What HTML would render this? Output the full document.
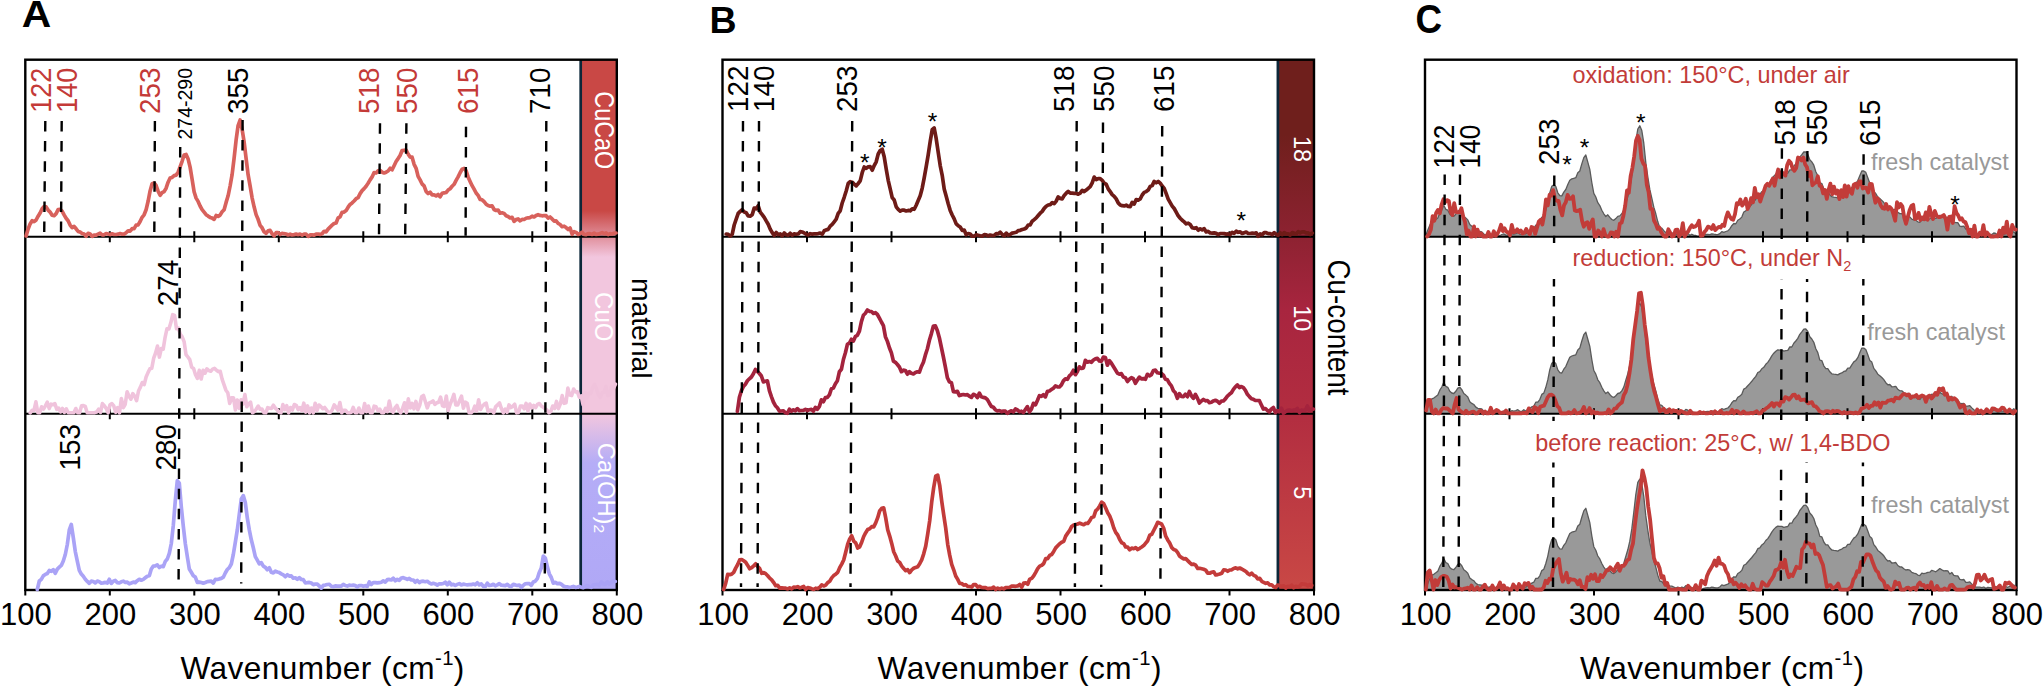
<!DOCTYPE html>
<html lang="en"><head><meta charset="utf-8"><title>Raman spectra</title>
<style>html,body{margin:0;padding:0;background:#fff}body{width:2044px;height:686px;overflow:hidden}svg{display:block}</style>
</head><body>
<svg width="2044" height="686" viewBox="0 0 2044 686" font-family="'Liberation Sans', Arial, Helvetica, sans-serif">
<defs>
<linearGradient id="gA" x1="0" y1="0" x2="0" y2="1">
<stop offset="0" stop-color="#c94845"/>
<stop offset="0.285" stop-color="#c94845"/>
<stop offset="0.372" stop-color="#f2c6de"/>
<stop offset="0.668" stop-color="#f2c6de"/>
<stop offset="0.760" stop-color="#b5adf7"/>
<stop offset="1" stop-color="#b0a8f6"/>
</linearGradient>
<linearGradient id="gB" x1="0" y1="0" x2="0" y2="1">
<stop offset="0" stop-color="#6f1f1c"/>
<stop offset="0.142" stop-color="#6f1f1c"/>
<stop offset="0.332" stop-color="#8d2231"/>
<stop offset="0.472" stop-color="#a8253f"/>
<stop offset="0.666" stop-color="#b22d40"/>
<stop offset="1" stop-color="#c94845"/>
</linearGradient>
</defs>
<rect width="2044" height="686" fill="#fff"/>
<!-- Panel A -->
<rect x="580.7" y="59.7" width="36.1" height="530.3" fill="url(#gA)"/>
<line x1="580.7" y1="59.7" x2="580.7" y2="590.0" stroke="#0c2739" stroke-width="2.7"/>
<g stroke="#000" stroke-width="2.4" fill="none" stroke-linecap="butt">
<rect x="25.3" y="59.7" width="591.5" height="530.3"/>
<path d="M25.3 236.7H616.8M25.3 413.8H616.8" stroke-width="2"/>
<path d="M25.3 590.0V595.5M109.8 590.0V595.5M109.8 231.2V242.2M109.8 408.3V419.3M194.3 590.0V595.5M194.3 231.2V242.2M194.3 408.3V419.3M278.8 590.0V595.5M278.8 231.2V242.2M278.8 408.3V419.3M363.3 590.0V595.5M363.3 231.2V242.2M363.3 408.3V419.3M447.8 590.0V595.5M447.8 231.2V242.2M447.8 408.3V419.3M532.3 590.0V595.5M532.3 231.2V242.2M532.3 408.3V419.3M616.8 590.0V595.5" stroke-width="2"/>
</g>
<polyline points="26.1,236.0 28.1,229.1 30.1,223.9 32.1,220.7 34.1,221.7 36.1,220.0 38.1,216.2 40.1,213.0 42.1,208.7 44.1,206.5 46.1,206.9 48.1,210.1 50.1,212.1 52.1,215.3 54.1,215.7 56.1,213.6 58.1,209.6 60.1,209.4 62.1,211.2 64.1,214.9 66.1,218.3 68.1,220.7 70.1,225.1 72.1,227.6 74.1,226.4 76.1,228.8 78.1,231.4 80.1,232.1 82.1,233.5 84.1,234.1 86.1,236.2 88.1,233.3 90.1,234.0 92.1,236.4 94.1,235.1 96.1,235.2 98.1,234.1 100.1,233.1 102.1,234.8 104.1,234.8 106.1,233.5 108.1,234.0 110.1,234.6 112.1,233.8 114.1,234.5 116.1,234.5 118.1,234.2 120.1,233.5 122.1,234.2 124.1,234.1 126.1,232.8 128.1,230.8 130.1,231.1 132.1,228.7 134.1,228.6 136.1,225.1 138.1,224.9 140.1,221.5 142.1,217.3 144.1,214.8 146.1,209.7 148.1,201.3 150.1,190.9 152.1,183.7 154.1,183.0 156.1,185.5 158.1,191.2 160.1,195.3 162.1,192.7 164.1,191.6 166.1,188.2 168.1,182.2 170.1,178.0 172.1,177.4 174.1,175.6 176.1,175.1 178.1,172.2 180.1,166.8 182.1,161.3 184.1,155.0 186.1,154.4 188.1,158.9 190.1,167.1 192.1,179.3 194.1,191.7 196.1,198.1 198.1,201.4 200.1,206.0 202.1,209.6 204.1,212.1 206.1,214.7 208.1,216.1 210.1,217.4 212.1,218.1 214.1,219.3 216.1,215.5 218.1,216.4 220.1,215.1 222.1,211.8 224.1,209.7 226.1,202.4 228.1,195.8 230.1,186.0 232.1,174.6 234.1,158.2 236.1,140.1 238.1,125.6 240.1,120.0 242.1,129.3 244.1,141.8 246.1,158.5 248.1,174.7 250.1,185.8 252.1,197.8 254.1,206.8 256.1,214.6 258.1,219.3 260.1,225.4 262.1,227.8 264.1,231.8 266.1,233.4 268.1,230.9 270.1,230.4 272.1,233.7 274.1,235.8 276.1,232.7 278.1,232.6 280.1,234.5 282.1,233.3 284.1,233.7 286.1,234.0 288.1,235.0 290.1,234.2 292.1,235.0 294.1,234.6 296.1,234.1 298.1,234.7 300.1,234.1 302.1,235.1 304.1,234.0 306.1,234.1 308.1,236.4 310.1,234.9 312.1,234.8 314.1,235.2 316.1,234.1 318.1,234.0 320.1,234.4 322.1,233.7 324.1,231.3 326.1,231.9 328.1,229.1 330.1,227.1 332.1,225.2 334.1,223.5 336.1,223.0 338.1,217.9 340.1,216.8 342.1,212.3 344.1,212.1 346.1,210.6 348.1,207.2 350.1,204.4 352.1,202.9 354.1,201.0 356.1,198.7 358.1,197.6 360.1,193.6 362.1,190.6 364.1,188.6 366.1,186.2 368.1,183.3 370.1,179.9 372.1,176.9 374.1,172.5 376.1,173.0 378.1,170.9 380.1,170.4 382.1,172.2 384.1,173.0 386.1,172.2 388.1,171.0 390.1,168.3 392.1,169.8 394.1,165.7 396.1,161.5 398.1,158.6 400.1,155.5 402.1,150.5 404.1,150.3 406.1,150.1 408.1,154.0 410.1,157.1 412.1,157.2 414.1,164.3 416.1,168.3 418.1,176.4 420.1,179.9 422.1,184.0 424.1,185.8 426.1,191.4 428.1,193.6 430.1,192.2 432.1,194.9 434.1,194.8 436.1,195.9 438.1,194.5 440.1,196.9 442.1,193.3 444.1,192.9 446.1,192.5 448.1,190.1 450.1,188.7 452.1,186.3 454.1,184.3 456.1,180.4 458.1,176.9 460.1,172.7 462.1,169.3 464.1,168.5 466.1,170.7 468.1,176.9 470.1,181.4 472.1,185.7 474.1,189.2 476.1,193.0 478.1,195.4 480.1,199.4 482.1,199.8 484.1,201.7 486.1,204.2 488.1,205.6 490.1,206.2 492.1,205.9 494.1,209.5 496.1,210.5 498.1,210.1 500.1,213.2 502.1,212.8 504.1,213.4 506.1,215.7 508.1,216.5 510.1,218.0 512.1,217.3 514.1,221.4 516.1,219.6 518.1,218.9 520.1,220.8 522.1,219.4 524.1,219.5 526.1,218.2 528.1,217.8 530.1,217.6 532.1,216.2 534.1,217.0 536.1,215.5 538.1,214.7 540.1,215.4 542.1,215.8 544.1,215.5 546.1,215.7 548.1,218.1 550.1,217.0 552.1,218.9 554.1,221.1 556.1,220.9 558.1,223.4 560.1,224.5 562.1,226.7 564.1,226.2 566.1,227.6 568.1,229.5 570.1,228.0 572.1,234.3 574.1,231.7 576.1,232.4 578.1,234.4 580.1,233.7 582.1,232.1 584.1,234.4 586.1,234.7 588.1,233.5 590.1,233.7 592.1,234.4 594.1,233.1 596.1,234.4 598.1,234.2 600.1,233.4 602.1,232.6 604.1,233.7 606.1,232.9 608.1,234.6 610.1,233.6 612.1,234.0 614.1,233.1 616.1,233.0" fill="none" stroke="#d8615c" stroke-width="3.7" stroke-linejoin="round" stroke-linecap="round"/>
<polyline points="30.2,412.8 32.1,410.3 34.0,410.4 35.9,401.8 37.8,412.8 39.7,412.8 41.6,406.8 43.5,409.2 45.4,405.8 47.3,402.2 49.2,408.6 51.1,404.1 53.0,404.7 54.9,403.6 56.8,409.4 58.7,408.1 60.6,411.9 62.5,408.5 64.4,412.4 66.3,408.9 68.2,412.8 70.1,412.8 72.0,412.8 73.9,412.8 75.8,408.5 77.7,412.8 79.6,412.8 81.5,405.9 83.4,405.6 85.3,406.5 87.2,412.8 89.1,412.8 91.0,412.8 92.9,412.8 94.8,412.6 96.7,412.1 98.6,409.2 100.5,412.4 102.4,403.6 104.3,405.8 106.2,408.4 108.1,412.8 110.0,404.7 111.9,403.6 113.8,405.9 115.7,412.3 117.6,407.6 119.5,412.8 121.4,398.5 123.3,407.7 125.2,404.3 127.1,391.8 129.0,396.3 130.9,399.2 132.8,393.6 134.7,396.3 136.6,400.7 138.5,391.0 140.4,387.1 142.3,382.5 144.2,384.6 146.1,377.0 148.0,372.6 149.9,368.8 151.8,368.2 153.7,358.1 155.6,353.0 157.5,346.1 159.4,357.1 161.3,348.5 163.2,349.1 165.1,337.3 167.0,328.7 168.9,329.0 170.8,322.8 172.7,314.7 174.6,315.4 176.5,328.8 178.4,328.2 180.3,334.2 182.2,336.9 184.1,341.6 186.0,354.6 187.9,357.0 189.8,359.6 191.7,367.2 193.6,368.4 195.5,374.7 197.4,378.3 199.3,370.3 201.2,379.0 203.1,370.3 205.0,373.2 206.9,368.8 208.8,370.6 210.7,371.2 212.6,369.1 214.5,368.4 216.4,370.1 218.3,371.7 220.2,371.3 222.1,379.1 224.0,384.7 225.9,390.2 227.8,392.8 229.7,403.4 231.6,397.8 233.5,397.8 235.4,409.9 237.3,400.0 239.2,408.3 241.1,399.8 243.0,404.1 244.9,394.6 246.8,406.7 248.7,403.8 250.6,402.2 252.5,412.8 254.4,411.5 256.3,409.0 258.2,406.1 260.1,409.2 262.0,409.0 263.9,412.8 265.8,412.8 267.7,407.6 269.6,408.2 271.5,408.4 273.4,405.2 275.3,408.2 277.2,409.9 279.1,412.3 281.0,412.8 282.9,404.6 284.8,409.6 286.7,405.7 288.6,412.8 290.5,407.5 292.4,410.0 294.3,404.5 296.2,405.3 298.1,409.6 300.0,407.6 301.9,410.7 303.8,403.2 305.7,412.1 307.6,405.9 309.5,412.8 311.4,408.0 313.3,412.8 315.2,403.2 317.1,410.3 319.0,405.0 320.9,406.6 322.8,408.7 324.7,407.5 326.6,410.1 328.5,412.4 330.4,412.3 332.3,409.7 334.2,404.9 336.1,407.4 338.0,410.1 339.9,402.5 341.8,412.8 343.7,410.2 345.6,410.2 347.5,412.8 349.4,412.8 351.3,412.3 353.2,407.4 355.1,412.7 357.0,412.8 358.9,408.0 360.8,412.8 362.7,412.8 364.6,403.5 366.5,411.7 368.4,406.0 370.3,412.8 372.2,412.8 374.1,406.2 376.0,406.8 377.9,410.6 379.8,409.1 381.7,412.8 383.6,412.7 385.5,408.4 387.4,411.7 389.3,401.1 391.2,410.2 393.1,412.3 395.0,407.9 396.9,405.5 398.8,410.4 400.7,412.8 402.6,408.4 404.5,402.8 406.4,412.6 408.3,398.9 410.2,408.0 412.1,403.3 414.0,408.9 415.9,401.4 417.8,409.7 419.7,405.3 421.6,396.8 423.5,395.5 425.4,401.8 427.3,407.9 429.2,402.9 431.1,402.3 433.0,400.8 434.9,404.4 436.8,402.8 438.7,402.2 440.6,397.1 442.5,405.8 444.4,406.5 446.3,396.0 448.2,410.5 450.1,404.4 452.0,399.8 453.9,394.4 455.8,405.0 457.7,404.9 459.6,400.6 461.5,396.1 463.4,408.3 465.3,402.1 467.2,403.2 469.1,412.8 471.0,412.8 472.9,411.1 474.8,406.1 476.7,411.0 478.6,399.7 480.5,409.5 482.4,406.2 484.3,404.2 486.2,403.2 488.1,411.7 490.0,410.1 491.9,410.4 493.8,412.8 495.7,406.6 497.6,405.0 499.5,402.9 501.4,408.6 503.3,412.8 505.2,409.2 507.1,412.3 509.0,404.9 510.9,407.6 512.8,406.2 514.7,404.2 516.6,412.8 518.5,412.4 520.4,406.0 522.3,406.0 524.2,408.8 526.1,403.4 528.0,411.0 529.9,404.1 531.8,407.9 533.7,405.4 535.6,407.7 537.5,404.4 539.4,403.5 541.3,406.0 543.2,407.2 545.1,408.8 547.0,410.2 548.9,412.8 550.8,411.5 552.7,406.0 554.6,408.5 556.5,401.4 558.4,408.6 560.3,404.1 562.2,395.6 564.1,403.3 566.0,402.8 567.9,388.1 569.8,395.1 571.7,395.6 573.6,389.1 575.5,392.0 577.4,391.9 579.3,397.2 581.2,395.9 583.1,404.8 585.0,392.3 586.9,398.1 588.8,393.4 590.7,393.8 592.6,387.7 594.5,384.4 596.4,388.6 598.3,394.4 600.2,397.3 602.1,393.0 604.0,392.2 605.9,386.5 607.8,395.7 609.7,394.6 611.6,386.7 613.5,388.3 615.4,384.2" fill="none" stroke="#f0c3dc" stroke-width="3.6" stroke-linejoin="round" stroke-linecap="round"/>
<polyline points="37.3,589.5 39.3,581.0 41.3,579.3 43.3,575.8 45.3,574.4 47.3,573.5 49.3,570.5 51.3,571.3 53.3,569.7 55.3,573.3 57.3,569.1 59.3,567.2 61.3,565.4 63.3,561.0 65.3,554.5 67.3,544.5 69.3,529.9 71.3,524.5 73.3,537.6 75.3,551.6 77.3,561.2 79.3,570.4 81.3,574.1 83.3,576.3 85.3,579.2 87.3,581.4 89.3,583.3 91.3,581.2 93.3,581.5 95.3,582.9 97.3,581.1 99.3,581.8 101.3,583.1 103.3,582.9 105.3,582.4 107.3,583.0 109.3,579.3 111.3,583.4 113.3,581.3 115.3,580.5 117.3,582.6 119.3,583.0 121.3,581.8 123.3,581.2 125.3,582.3 127.3,582.2 129.3,583.8 131.3,583.0 133.3,582.1 135.3,582.6 137.3,580.7 139.3,579.3 141.3,580.2 143.3,579.4 145.3,577.8 147.3,576.2 149.3,575.8 151.3,569.0 153.3,566.1 155.3,565.9 157.3,564.8 159.3,567.5 161.3,566.2 163.3,566.6 165.3,561.4 167.3,559.0 169.3,553.4 171.3,543.5 173.3,525.4 175.3,500.6 177.3,480.6 179.3,483.1 181.3,506.9 183.3,526.2 185.3,543.5 187.3,556.5 189.3,569.0 191.3,572.3 193.3,575.7 195.3,577.1 197.3,582.4 199.3,582.1 201.3,582.5 203.3,583.2 205.3,582.5 207.3,581.6 209.3,581.4 211.3,581.2 213.3,583.0 215.3,579.4 217.3,579.5 219.3,578.9 221.3,578.4 223.3,577.2 225.3,573.0 227.3,569.5 229.3,567.6 231.3,564.0 233.3,554.5 235.3,542.4 237.3,529.9 239.3,514.3 241.3,499.0 243.3,495.6 245.3,502.5 247.3,517.9 249.3,529.9 251.3,539.8 253.3,547.8 255.3,556.6 257.3,560.1 259.3,563.8 261.3,562.7 263.3,566.1 265.3,567.3 267.3,569.7 269.3,567.8 271.3,572.3 273.3,572.9 275.3,571.1 277.3,572.0 279.3,572.6 281.3,573.9 283.3,574.9 285.3,576.7 287.3,574.7 289.3,576.1 291.3,575.9 293.3,578.2 295.3,577.8 297.3,579.3 299.3,577.7 301.3,579.5 303.3,579.7 305.3,582.8 307.3,582.7 309.3,582.4 311.3,583.0 313.3,584.7 315.3,584.0 317.3,584.2 319.3,586.0 321.3,588.1 323.3,585.3 325.3,585.1 327.3,584.5 329.3,584.3 331.3,586.3 333.3,586.7 335.3,585.9 337.3,586.2 339.3,586.0 341.3,586.1 343.3,584.3 345.3,585.5 347.3,586.1 349.3,585.2 351.3,585.5 353.3,585.1 355.3,585.6 357.3,586.9 359.3,585.5 361.3,585.6 363.3,586.3 365.3,585.7 367.3,586.4 369.3,581.9 371.3,584.5 373.3,582.5 375.3,582.6 377.3,582.9 379.3,582.7 381.3,582.2 383.3,580.9 385.3,582.1 387.3,579.7 389.3,579.4 391.3,580.0 393.3,578.2 395.3,580.8 397.3,579.3 399.3,580.4 401.3,578.0 403.3,577.7 405.3,578.4 407.3,579.4 409.3,578.4 411.3,579.9 413.3,580.0 415.3,582.2 417.3,580.4 419.3,582.6 421.3,581.3 423.3,581.2 425.3,581.7 427.3,581.3 429.3,582.9 431.3,584.0 433.3,583.3 435.3,583.9 437.3,585.1 439.3,583.8 441.3,583.8 443.3,583.5 445.3,582.2 447.3,584.8 449.3,582.2 451.3,584.9 453.3,584.3 455.3,585.5 457.3,584.4 459.3,583.6 461.3,585.0 463.3,584.1 465.3,584.5 467.3,584.8 469.3,584.7 471.3,584.7 473.3,584.0 475.3,584.8 477.3,582.8 479.3,584.9 481.3,583.9 483.3,586.3 485.3,586.5 487.3,583.2 489.3,585.4 491.3,585.2 493.3,584.3 495.3,585.9 497.3,584.9 499.3,583.6 501.3,585.2 503.3,585.4 505.3,585.6 507.3,584.3 509.3,586.2 511.3,586.4 513.3,584.4 515.3,584.9 517.3,585.5 519.3,585.0 521.3,587.3 523.3,585.4 525.3,583.8 527.3,583.5 529.3,583.7 531.3,585.4 533.3,582.0 535.3,581.2 537.3,578.7 539.3,572.4 541.3,568.0 543.3,556.0 545.3,558.0 547.3,566.6 549.3,573.8 551.3,577.5 553.3,583.2 555.3,582.4 557.3,583.6 559.3,583.3 561.3,584.2 563.3,586.0 565.3,586.8 567.3,586.8 569.3,587.4 571.3,587.0 573.3,586.4 575.3,587.3 577.3,587.1 579.3,586.4 581.3,587.2 583.3,587.7 585.3,586.5 587.3,585.6 589.3,586.5 591.3,587.4 593.3,584.9 595.3,584.7 597.3,584.3 599.3,585.4 601.3,581.9 603.3,583.9 605.3,584.4 607.3,581.9 609.3,584.0 611.3,582.6 613.3,581.1 615.3,581.5" fill="none" stroke="#aaa3f6" stroke-width="3.7" stroke-linejoin="round" stroke-linecap="round"/>
<g stroke="#000" stroke-width="2.4" stroke-dasharray="10.5 9.6" fill="none">
<line x1="45.3" y1="121.0" x2="44.2" y2="235.7"/>
<line x1="61.7" y1="121.0" x2="61.0" y2="235.7"/>
<line x1="154.9" y1="121.0" x2="154.3" y2="235.7"/>
<line x1="180.2" y1="147.0" x2="178.6" y2="580.0"/>
<line x1="242.6" y1="120.0" x2="241.2" y2="583.5"/>
<line x1="380.0" y1="123.2" x2="379.0" y2="235.7"/>
<line x1="406.4" y1="123.2" x2="405.2" y2="235.7"/>
<line x1="466.0" y1="126.8" x2="465.6" y2="235.7"/>
<line x1="546.3" y1="120.9" x2="544.8" y2="587.0"/>
</g>
<text id="a122" transform="translate(51.00 112.80) rotate(-90) scale(1 1.100)" font-size="27.00" fill="#c43a38">122</text>
<text id="a140" transform="translate(77.00 112.80) rotate(-90) scale(1 1.100)" font-size="27.00" fill="#c43a38">140</text>
<text id="a253" transform="translate(159.90 114.00) rotate(-90) scale(1 1.050)" font-size="27.80" fill="#c43a38">253</text>
<text id="a274290" transform="translate(191.50 139.50) rotate(-90) scale(1 1.050)" font-size="19.50" fill="#000">274-290</text>
<text id="a355" transform="translate(248.10 114.00) rotate(-90) scale(1 1.050)" font-size="27.80" fill="#000">355</text>
<text id="a518" transform="translate(378.50 114.00) rotate(-90) scale(1 1.050)" font-size="27.80" fill="#c43a38">518</text>
<text id="a550" transform="translate(417.40 114.00) rotate(-90) scale(1 1.050)" font-size="27.80" fill="#c43a38">550</text>
<text id="a615" transform="translate(477.50 114.00) rotate(-90) scale(1 1.050)" font-size="27.80" fill="#c43a38">615</text>
<text id="a710" transform="translate(549.50 114.00) rotate(-90) scale(1 1.050)" font-size="27.80" fill="#000">710</text>
<text id="a274" transform="translate(177.70 306.20) rotate(-90) scale(1 1.050)" font-size="27.80" fill="#000">274</text>
<text id="a153" transform="translate(80.10 470.50) rotate(-90) scale(1 1.050)" font-size="27.80" fill="#000">153</text>
<text id="a280" transform="translate(176.30 470.50) rotate(-90) scale(1 1.050)" font-size="27.80" fill="#000">280</text>
<text id="aCuCaO" transform="translate(595.20 91.30) rotate(90) scale(1 1.160)" font-size="23.40" fill="#fff">CuCaO</text>
<text id="aCuO" transform="translate(595.20 292.10) rotate(90) scale(1 1.110)" font-size="24.00" fill="#fff">CuO</text>
<text id="aCaOH" transform="translate(598.00 442.80) rotate(90) scale(1 1.000)" font-size="23.70" fill="#fff">Ca(OH)<tspan font-size="15.5" dy="4">2</tspan></text>
<text id="amat" transform="translate(631.80 277.90) rotate(90) scale(1 1.000)" font-size="28.30" fill="#000">material</text>
<text id="aA" transform="translate(21.80 26.90) scale(1.080 1)" font-size="37.80" fill="#000" text-anchor="start" font-weight="bold">A</text>
<g font-size="31" text-anchor="middle" fill="#000">
<text x="25.9" y="625.3">100</text>
<text x="110.4" y="625.3">200</text>
<text x="194.9" y="625.3">300</text>
<text x="279.4" y="625.3">400</text>
<text x="363.9" y="625.3">500</text>
<text x="448.4" y="625.3">600</text>
<text x="532.9" y="625.3">700</text>
<text x="617.4" y="625.3">800</text>
</g>
<text x="180.4" y="678.7" font-size="31.6" textLength="284" lengthAdjust="spacing" fill="#000">Wavenumber (cm<tspan font-size="20.3" dy="-14">-1</tspan><tspan dy="14">)</tspan></text>
<!-- Panel B -->
<rect x="1277.9" y="59.7" width="36.1" height="530.3" fill="url(#gB)"/>
<line x1="1277.9" y1="59.7" x2="1277.9" y2="590.0" stroke="#0c2739" stroke-width="2.7"/>
<g stroke="#000" stroke-width="2.4" fill="none" stroke-linecap="butt">
<rect x="722.5" y="59.7" width="591.5" height="530.3"/>
<path d="M722.5 236.7H1314.0M722.5 413.8H1314.0" stroke-width="2"/>
<path d="M722.5 590.0V595.5M807.0 590.0V595.5M807.0 231.2V242.2M807.0 408.3V419.3M891.5 590.0V595.5M891.5 231.2V242.2M891.5 408.3V419.3M976.0 590.0V595.5M976.0 231.2V242.2M976.0 408.3V419.3M1060.5 590.0V595.5M1060.5 231.2V242.2M1060.5 408.3V419.3M1145.0 590.0V595.5M1145.0 231.2V242.2M1145.0 408.3V419.3M1229.5 590.0V595.5M1229.5 231.2V242.2M1229.5 408.3V419.3M1314.0 590.0V595.5" stroke-width="2"/>
</g>
<polyline points="726.2,234.0 728.2,234.4 730.2,236.0 732.2,234.4 734.2,225.0 736.2,219.2 738.2,213.4 740.2,211.4 742.2,209.7 744.2,212.0 746.2,212.7 748.2,215.9 750.2,216.1 752.2,214.8 754.2,208.1 756.2,208.8 758.2,205.8 760.2,212.1 762.2,214.6 764.2,217.3 766.2,220.9 768.2,224.3 770.2,229.1 772.2,232.7 774.2,235.4 776.2,232.5 778.2,234.6 780.2,233.9 782.2,235.8 784.2,233.0 786.2,234.8 788.2,235.2 790.2,233.2 792.2,235.2 794.2,233.9 796.2,234.3 798.2,233.9 800.2,231.7 802.2,232.0 804.2,232.9 806.2,234.3 808.2,234.9 810.2,233.7 812.2,234.1 814.2,233.9 816.2,233.8 818.2,233.6 820.2,233.0 822.2,234.3 824.2,230.8 826.2,229.9 828.2,229.4 830.2,226.1 832.2,224.3 834.2,221.8 836.2,219.2 838.2,213.4 840.2,210.8 842.2,203.0 844.2,197.3 846.2,191.0 848.2,183.5 850.2,181.7 852.2,182.2 854.2,184.1 856.2,185.9 858.2,183.5 860.2,180.9 862.2,172.7 864.2,167.0 866.2,168.4 868.2,166.8 870.2,166.7 872.2,170.2 874.2,165.6 876.2,161.8 878.2,154.0 880.2,150.5 882.2,149.3 884.2,156.7 886.2,169.0 888.2,180.3 890.2,188.8 892.2,197.6 894.2,200.0 896.2,206.8 898.2,209.3 900.2,211.1 902.2,210.1 904.2,210.2 906.2,211.0 908.2,210.4 910.2,210.8 912.2,208.9 914.2,209.3 916.2,205.2 918.2,200.6 920.2,195.8 922.2,188.2 924.2,177.8 926.2,166.6 928.2,154.9 930.2,141.5 932.2,129.7 934.2,128.0 936.2,138.7 938.2,152.2 940.2,165.6 942.2,175.3 944.2,188.9 946.2,196.3 948.2,203.7 950.2,210.4 952.2,215.0 954.2,218.9 956.2,223.9 958.2,225.7 960.2,227.0 962.2,230.4 964.2,230.0 966.2,234.7 968.2,233.5 970.2,234.0 972.2,236.2 974.2,236.2 976.2,234.7 978.2,235.3 980.2,235.8 982.2,236.2 984.2,234.6 986.2,234.8 988.2,235.9 990.2,235.0 992.2,235.5 994.2,235.3 996.2,233.6 998.2,233.8 1000.2,232.1 1002.2,234.4 1004.2,235.8 1006.2,233.1 1008.2,235.1 1010.2,234.5 1012.2,233.1 1014.2,232.7 1016.2,232.3 1018.2,230.6 1020.2,230.3 1022.2,229.5 1024.2,229.0 1026.2,228.0 1028.2,225.0 1030.2,224.8 1032.2,221.2 1034.2,219.6 1036.2,217.9 1038.2,215.5 1040.2,213.2 1042.2,211.4 1044.2,208.4 1046.2,206.3 1048.2,205.0 1050.2,204.7 1052.2,202.6 1054.2,203.6 1056.2,201.1 1058.2,196.9 1060.2,198.4 1062.2,198.9 1064.2,195.4 1066.2,193.2 1068.2,191.4 1070.2,193.1 1072.2,193.1 1074.2,193.3 1076.2,193.3 1078.2,194.2 1080.2,193.1 1082.2,190.4 1084.2,191.6 1086.2,190.1 1088.2,188.3 1090.2,186.6 1092.2,182.8 1094.2,177.1 1096.2,179.7 1098.2,178.7 1100.2,178.6 1102.2,180.3 1104.2,183.3 1106.2,184.2 1108.2,188.9 1110.2,191.7 1112.2,194.6 1114.2,196.3 1116.2,198.9 1118.2,202.9 1120.2,205.0 1122.2,205.7 1124.2,205.9 1126.2,205.2 1128.2,206.4 1130.2,206.6 1132.2,202.4 1134.2,204.1 1136.2,199.6 1138.2,200.1 1140.2,199.0 1142.2,195.0 1144.2,192.4 1146.2,191.6 1148.2,190.1 1150.2,186.4 1152.2,185.6 1154.2,181.4 1156.2,182.8 1158.2,181.5 1160.2,183.2 1162.2,186.0 1164.2,188.4 1166.2,193.7 1168.2,199.1 1170.2,202.6 1172.2,206.1 1174.2,208.5 1176.2,212.2 1178.2,215.8 1180.2,218.2 1182.2,220.3 1184.2,221.9 1186.2,223.8 1188.2,223.2 1190.2,224.6 1192.2,227.7 1194.2,228.3 1196.2,227.7 1198.2,230.2 1200.2,228.8 1202.2,229.8 1204.2,228.7 1206.2,231.9 1208.2,231.4 1210.2,233.0 1212.2,233.1 1214.2,232.9 1216.2,233.4 1218.2,234.7 1220.2,233.5 1222.2,233.5 1224.2,233.6 1226.2,234.1 1228.2,233.9 1230.2,234.6 1232.2,232.3 1234.2,233.3 1236.2,231.2 1238.2,232.3 1240.2,231.8 1242.2,233.5 1244.2,232.7 1246.2,232.0 1248.2,233.4 1250.2,233.5 1252.2,233.2 1254.2,233.4 1256.2,232.8 1258.2,236.2 1260.2,233.9 1262.2,234.7 1264.2,232.6 1266.2,232.7 1268.2,233.6 1270.2,233.6 1272.2,234.6 1274.2,232.7 1276.2,234.3 1278.2,235.3 1280.2,232.8 1282.2,234.6 1284.2,232.7 1286.2,233.9 1288.2,233.8 1290.2,235.1 1292.2,232.6 1294.2,233.3 1296.2,234.1 1298.2,231.7 1300.2,232.8 1302.2,231.8 1304.2,231.8 1306.2,233.0 1308.2,232.8 1310.2,234.5 1312.2,233.1" fill="none" stroke="#6e1b17" stroke-width="3.7" stroke-linejoin="round" stroke-linecap="round"/>
<polyline points="737.4,411.3 739.4,397.2 741.4,390.8 743.4,386.4 745.4,384.2 747.4,380.8 749.4,378.8 751.4,377.0 753.4,373.7 755.4,369.5 757.4,371.4 759.4,373.5 761.4,376.0 763.4,381.9 765.4,381.3 767.4,380.9 769.4,390.7 771.4,396.6 773.4,402.0 775.4,405.7 777.4,407.7 779.4,411.1 781.4,411.0 783.4,410.8 785.4,412.8 787.4,413.3 789.4,409.2 791.4,411.3 793.4,409.8 795.4,410.8 797.4,408.6 799.4,410.7 801.4,410.5 803.4,410.3 805.4,409.3 807.4,410.7 809.4,409.7 811.4,409.3 813.4,411.2 815.4,407.4 817.4,409.3 819.4,406.4 821.4,399.8 823.4,401.8 825.4,397.6 827.4,397.3 829.4,394.9 831.4,388.7 833.4,388.1 835.4,383.7 837.4,380.7 839.4,371.7 841.4,369.3 843.4,359.5 845.4,352.8 847.4,344.4 849.4,343.1 851.4,339.3 853.4,341.0 855.4,336.6 857.4,335.2 859.4,331.2 861.4,321.6 863.4,315.2 865.4,313.2 867.4,310.0 869.4,311.3 871.4,311.5 873.4,313.4 875.4,312.7 877.4,314.5 879.4,318.1 881.4,322.0 883.4,325.6 885.4,336.7 887.4,341.4 889.4,347.8 891.4,352.9 893.4,361.1 895.4,362.3 897.4,364.5 899.4,367.0 901.4,371.7 903.4,370.2 905.4,370.5 907.4,374.2 909.4,371.6 911.4,373.3 913.4,373.9 915.4,372.5 917.4,371.8 919.4,372.2 921.4,366.5 923.4,362.2 925.4,354.9 927.4,348.7 929.4,340.3 931.4,333.6 933.4,326.1 935.4,325.9 937.4,330.7 939.4,338.0 941.4,347.5 943.4,357.0 945.4,367.2 947.4,377.8 949.4,381.9 951.4,382.7 953.4,391.6 955.4,391.9 957.4,391.4 959.4,395.6 961.4,394.9 963.4,394.5 965.4,395.0 967.4,394.6 969.4,396.2 971.4,397.4 973.4,394.3 975.4,395.1 977.4,397.6 979.4,393.1 981.4,396.8 983.4,397.4 985.4,397.9 987.4,399.7 989.4,403.2 991.4,406.5 993.4,407.3 995.4,409.7 997.4,411.0 999.4,410.5 1001.4,411.6 1003.4,411.1 1005.4,411.2 1007.4,413.3 1009.4,411.6 1011.4,410.8 1013.4,411.8 1015.4,409.0 1017.4,410.0 1019.4,411.7 1021.4,411.2 1023.4,412.5 1025.4,409.5 1027.4,406.6 1029.4,411.9 1031.4,409.1 1033.4,403.3 1035.4,404.9 1037.4,400.5 1039.4,395.6 1041.4,396.4 1043.4,394.8 1045.4,396.9 1047.4,391.4 1049.4,391.0 1051.4,389.6 1053.4,388.2 1055.4,386.0 1057.4,386.8 1059.4,387.0 1061.4,384.9 1063.4,380.9 1065.4,378.9 1067.4,379.3 1069.4,375.9 1071.4,374.0 1073.4,370.3 1075.4,374.7 1077.4,371.5 1079.4,366.8 1081.4,368.5 1083.4,367.9 1085.4,360.3 1087.4,362.2 1089.4,361.5 1091.4,362.3 1093.4,360.0 1095.4,358.9 1097.4,358.4 1099.4,361.0 1101.4,361.3 1103.4,357.0 1105.4,357.5 1107.4,365.2 1109.4,360.7 1111.4,363.2 1113.4,366.4 1115.4,369.7 1117.4,373.1 1119.4,374.2 1121.4,373.6 1123.4,377.1 1125.4,377.7 1127.4,381.5 1129.4,379.2 1131.4,377.7 1133.4,378.7 1135.4,383.3 1137.4,380.1 1139.4,377.1 1141.4,378.8 1143.4,378.6 1145.4,379.3 1147.4,374.3 1149.4,375.9 1151.4,374.6 1153.4,370.5 1155.4,370.2 1157.4,372.8 1159.4,373.2 1161.4,373.5 1163.4,375.1 1165.4,379.2 1167.4,379.8 1169.4,383.4 1171.4,385.9 1173.4,390.8 1175.4,392.8 1177.4,398.3 1179.4,393.6 1181.4,396.3 1183.4,396.6 1185.4,394.2 1187.4,396.7 1189.4,391.4 1191.4,395.8 1193.4,398.3 1195.4,394.4 1197.4,398.1 1199.4,403.0 1201.4,401.0 1203.4,399.5 1205.4,400.8 1207.4,400.5 1209.4,402.6 1211.4,402.2 1213.4,400.9 1215.4,400.3 1217.4,401.2 1219.4,403.2 1221.4,401.1 1223.4,401.0 1225.4,398.9 1227.4,396.1 1229.4,394.3 1231.4,392.8 1233.4,389.4 1235.4,386.8 1237.4,385.0 1239.4,387.5 1241.4,386.5 1243.4,387.6 1245.4,390.3 1247.4,394.3 1249.4,396.6 1251.4,398.7 1253.4,399.3 1255.4,400.5 1257.4,400.5 1259.4,400.7 1261.4,405.0 1263.4,409.1 1265.4,408.5 1267.4,410.5 1269.4,411.9 1271.4,408.9 1273.4,407.5 1275.4,412.6 1277.4,410.6 1279.4,411.8 1281.4,408.3 1283.4,413.3 1285.4,411.8 1287.4,410.4 1289.4,410.0 1291.4,410.7 1293.4,410.2 1295.4,410.0 1297.4,408.5 1299.4,412.5 1301.4,410.2 1303.4,410.3 1305.4,410.3 1307.4,406.0 1309.4,410.8 1311.4,409.2 1313.4,409.1" fill="none" stroke="#a4233d" stroke-width="3.7" stroke-linejoin="round" stroke-linecap="round"/>
<polyline points="723.7,589.5 725.7,583.2 727.7,574.4 729.7,574.6 731.7,574.1 733.7,572.4 735.7,568.1 737.7,564.5 739.7,559.9 741.7,559.5 743.7,560.8 745.7,562.3 747.7,565.4 749.7,568.7 751.7,567.6 753.7,565.8 755.7,563.8 757.7,566.6 759.7,568.6 761.7,573.4 763.7,572.6 765.7,573.7 767.7,575.7 769.7,578.1 771.7,579.8 773.7,582.6 775.7,585.7 777.7,585.3 779.7,588.1 781.7,587.8 783.7,588.1 785.7,588.2 787.7,588.9 789.7,587.8 791.7,588.9 793.7,587.2 795.7,587.3 797.7,586.7 799.7,587.9 801.7,587.3 803.7,586.5 805.7,589.5 807.7,587.5 809.7,588.0 811.7,588.8 813.7,589.5 815.7,588.2 817.7,588.6 819.7,587.3 821.7,584.8 823.7,586.0 825.7,585.1 827.7,582.6 829.7,581.3 831.7,577.9 833.7,575.6 835.7,574.2 837.7,572.4 839.7,567.6 841.7,564.1 843.7,560.0 845.7,552.3 847.7,544.2 849.7,538.9 851.7,535.8 853.7,541.2 855.7,542.9 857.7,548.0 859.7,546.8 861.7,542.2 863.7,536.5 865.7,532.7 867.7,529.5 869.7,528.7 871.7,526.7 873.7,526.9 875.7,522.9 877.7,517.7 879.7,510.8 881.7,508.3 883.7,507.9 885.7,517.9 887.7,529.8 889.7,536.1 891.7,543.4 893.7,551.8 895.7,556.0 897.7,561.1 899.7,562.5 901.7,566.1 903.7,568.5 905.7,570.6 907.7,569.7 909.7,572.6 911.7,569.9 913.7,568.3 915.7,567.4 917.7,566.7 919.7,563.7 921.7,559.9 923.7,553.8 925.7,546.3 927.7,534.1 929.7,520.8 931.7,502.1 933.7,487.5 935.7,476.2 937.7,475.2 939.7,485.3 941.7,501.0 943.7,514.8 945.7,528.0 947.7,544.3 949.7,555.2 951.7,564.4 953.7,569.8 955.7,576.0 957.7,579.4 959.7,583.5 961.7,583.5 963.7,585.1 965.7,584.7 967.7,586.4 969.7,586.5 971.7,587.1 973.7,584.5 975.7,584.6 977.7,587.1 979.7,586.3 981.7,587.5 983.7,587.6 985.7,587.7 987.7,588.6 989.7,588.4 991.7,588.4 993.7,587.1 995.7,589.5 997.7,588.1 999.7,589.0 1001.7,588.1 1003.7,588.9 1005.7,587.7 1007.7,587.5 1009.7,587.3 1011.7,586.2 1013.7,586.1 1015.7,586.3 1017.7,585.9 1019.7,584.5 1021.7,587.2 1023.7,583.1 1025.7,582.9 1027.7,584.2 1029.7,579.2 1031.7,578.4 1033.7,575.8 1035.7,572.3 1037.7,568.6 1039.7,566.1 1041.7,565.3 1043.7,563.5 1045.7,558.6 1047.7,558.6 1049.7,555.4 1051.7,554.5 1053.7,551.4 1055.7,547.9 1057.7,545.8 1059.7,543.7 1061.7,542.3 1063.7,541.4 1065.7,536.1 1067.7,533.1 1069.7,530.3 1071.7,526.4 1073.7,525.0 1075.7,524.5 1077.7,524.0 1079.7,523.1 1081.7,524.0 1083.7,524.7 1085.7,523.4 1087.7,523.5 1089.7,520.9 1091.7,517.4 1093.7,516.8 1095.7,510.9 1097.7,509.0 1099.7,505.9 1101.7,502.1 1103.7,503.7 1105.7,508.0 1107.7,512.8 1109.7,516.0 1111.7,521.1 1113.7,527.7 1115.7,532.4 1117.7,535.0 1119.7,539.6 1121.7,542.8 1123.7,543.6 1125.7,547.0 1127.7,547.2 1129.7,549.8 1131.7,548.1 1133.7,548.7 1135.7,547.7 1137.7,549.5 1139.7,548.3 1141.7,547.0 1143.7,545.6 1145.7,543.1 1147.7,540.7 1149.7,535.3 1151.7,534.4 1153.7,530.5 1155.7,526.7 1157.7,522.3 1159.7,523.1 1161.7,524.2 1163.7,528.3 1165.7,536.2 1167.7,539.9 1169.7,543.0 1171.7,547.4 1173.7,549.6 1175.7,550.2 1177.7,552.7 1179.7,556.3 1181.7,557.6 1183.7,558.8 1185.7,558.7 1187.7,560.6 1189.7,562.6 1191.7,564.5 1193.7,564.2 1195.7,565.2 1197.7,568.4 1199.7,568.3 1201.7,568.7 1203.7,569.2 1205.7,570.1 1207.7,573.1 1209.7,573.2 1211.7,572.3 1213.7,571.8 1215.7,574.9 1217.7,574.6 1219.7,574.0 1221.7,573.2 1223.7,569.9 1225.7,570.0 1227.7,571.3 1229.7,570.0 1231.7,569.8 1233.7,568.4 1235.7,567.8 1237.7,568.8 1239.7,568.0 1241.7,569.0 1243.7,570.2 1245.7,571.3 1247.7,573.4 1249.7,574.8 1251.7,573.1 1253.7,575.4 1255.7,576.2 1257.7,578.9 1259.7,578.4 1261.7,581.3 1263.7,582.3 1265.7,583.3 1267.7,582.9 1269.7,584.8 1271.7,584.8 1273.7,586.8 1275.7,587.5 1277.7,585.0 1279.7,585.7 1281.7,586.3 1283.7,585.9 1285.7,588.0 1287.7,586.3 1289.7,586.7 1291.7,585.2 1293.7,587.8 1295.7,586.4 1297.7,586.9 1299.7,586.1 1301.7,583.8 1303.7,584.2 1305.7,584.3 1307.7,585.9 1309.7,584.7 1311.7,585.5" fill="none" stroke="#c33b3a" stroke-width="3.7" stroke-linejoin="round" stroke-linecap="round"/>
<g stroke="#000" stroke-width="2.4" stroke-dasharray="10.5 9.6" fill="none">
<line x1="743.0" y1="121.0" x2="741.0" y2="587.0"/>
<line x1="759.0" y1="121.0" x2="757.6" y2="587.0"/>
<line x1="852.2" y1="121.0" x2="850.5" y2="587.0"/>
<line x1="1076.7" y1="121.0" x2="1074.9" y2="587.0"/>
<line x1="1103.0" y1="122.4" x2="1101.2" y2="587.0"/>
<line x1="1162.2" y1="126.0" x2="1160.4" y2="587.0"/>
</g>
<text id="b122" transform="translate(748.30 112.00) rotate(-90) scale(1 1.050)" font-size="27.80" fill="#000">122</text>
<text id="b140" transform="translate(774.00 112.00) rotate(-90) scale(1 1.050)" font-size="27.80" fill="#000">140</text>
<text id="b253" transform="translate(856.90 112.00) rotate(-90) scale(1 1.050)" font-size="27.80" fill="#000">253</text>
<text id="b518" transform="translate(1074.40 112.00) rotate(-90) scale(1 1.050)" font-size="27.80" fill="#000">518</text>
<text id="b550" transform="translate(1114.10 112.00) rotate(-90) scale(1 1.050)" font-size="27.80" fill="#000">550</text>
<text id="b615" transform="translate(1173.80 112.00) rotate(-90) scale(1 1.050)" font-size="27.80" fill="#000">615</text>
<text id="b18" transform="translate(1293.50 136.00) rotate(90) scale(1 1.040)" font-size="23.50" fill="#fff">18</text>
<text id="b10" transform="translate(1293.50 305.30) rotate(90) scale(1 1.040)" font-size="23.50" fill="#fff">10</text>
<text id="b5" transform="translate(1293.50 486.20) rotate(90) scale(1 1.040)" font-size="23.50" fill="#fff">5</text>
<text id="bcu" transform="translate(1328.00 259.50) rotate(90) scale(1 1.100)" font-size="27.80" fill="#000">Cu-content</text>
<text id="bB" transform="translate(709.50 32.90) scale(1.000 1)" font-size="37.50" fill="#000" text-anchor="start" font-weight="bold">B</text>
<text id="ast0" transform="translate(864.80 171.20) scale(1.000 1)" font-size="24.50" fill="#000" text-anchor="middle">*</text>
<text id="ast1" transform="translate(882.00 155.50) scale(1.000 1)" font-size="24.50" fill="#000" text-anchor="middle">*</text>
<text id="ast2" transform="translate(932.60 129.90) scale(1.000 1)" font-size="24.50" fill="#000" text-anchor="middle">*</text>
<text id="ast3" transform="translate(1241.30 229.30) scale(1.000 1)" font-size="24.50" fill="#000" text-anchor="middle">*</text>
<g font-size="31" text-anchor="middle" fill="#000">
<text x="723.1" y="625.3">100</text>
<text x="807.6" y="625.3">200</text>
<text x="892.1" y="625.3">300</text>
<text x="976.6" y="625.3">400</text>
<text x="1061.1" y="625.3">500</text>
<text x="1145.6" y="625.3">600</text>
<text x="1230.1" y="625.3">700</text>
<text x="1314.6" y="625.3">800</text>
</g>
<text x="877.6" y="678.7" font-size="31.6" textLength="284" lengthAdjust="spacing" fill="#000">Wavenumber (cm<tspan font-size="20.3" dy="-14">-1</tspan><tspan dy="14">)</tspan></text>
<!-- Panel C -->
<polygon points="1425.8,236.7 1425.8,235.8 1427.8,229.9 1429.8,225.2 1431.8,221.8 1433.8,221.0 1435.8,219.5 1437.8,217.9 1439.8,213.1 1441.8,209.9 1443.8,205.2 1445.8,209.3 1447.8,210.2 1449.8,214.2 1451.8,215.9 1453.8,216.4 1455.8,214.2 1457.8,211.1 1459.8,210.2 1461.8,212.5 1463.8,216.4 1465.8,218.0 1467.8,219.9 1469.8,224.6 1471.8,226.3 1473.8,227.4 1475.8,230.0 1477.8,231.3 1479.8,231.5 1481.8,231.9 1483.8,234.0 1485.8,235.1 1487.8,234.2 1489.8,233.7 1491.8,234.9 1493.8,235.3 1495.8,234.3 1497.8,235.2 1499.8,235.7 1501.8,234.5 1503.8,233.9 1505.8,235.1 1507.8,235.0 1509.8,235.8 1511.8,233.5 1513.8,234.0 1515.8,233.6 1517.8,232.6 1519.8,234.2 1521.8,234.3 1523.8,232.6 1525.8,234.0 1527.8,232.5 1529.8,231.2 1531.8,229.8 1533.8,228.9 1535.8,225.1 1537.8,225.0 1539.8,222.5 1541.8,217.3 1543.8,216.0 1545.8,210.2 1547.8,202.8 1549.8,192.6 1551.8,186.2 1553.8,184.7 1555.8,186.5 1557.8,192.8 1559.8,195.6 1561.8,195.9 1563.8,192.1 1565.8,189.5 1567.8,184.6 1569.8,180.2 1571.8,178.9 1573.8,178.3 1575.8,177.7 1577.8,172.8 1579.8,171.0 1581.8,163.9 1583.8,157.6 1585.8,155.0 1587.8,162.1 1589.8,169.3 1591.8,182.5 1593.8,193.4 1595.8,197.0 1597.8,202.7 1599.8,205.6 1601.8,210.2 1603.8,213.8 1605.8,216.5 1607.8,214.8 1609.8,217.4 1611.8,219.5 1613.8,220.3 1615.8,218.6 1617.8,216.4 1619.8,215.9 1621.8,213.8 1623.8,210.0 1625.8,203.2 1627.8,196.5 1629.8,187.9 1631.8,175.6 1633.8,159.0 1635.8,141.2 1637.8,129.0 1639.8,125.8 1641.8,130.5 1643.8,143.2 1645.8,162.6 1647.8,176.9 1649.8,189.4 1651.8,198.1 1653.8,207.2 1655.8,213.8 1657.8,221.8 1659.8,227.7 1661.8,228.2 1663.8,230.7 1665.8,232.6 1667.8,231.7 1669.8,232.6 1671.8,232.9 1673.8,233.7 1675.8,234.8 1677.8,233.9 1679.8,234.9 1681.8,233.8 1683.8,234.6 1685.8,232.3 1687.8,233.1 1689.8,235.4 1691.8,234.2 1693.8,235.4 1695.8,235.5 1697.8,236.3 1699.8,235.9 1701.8,236.1 1703.8,235.0 1705.8,234.5 1707.8,234.4 1709.8,234.6 1711.8,233.8 1713.8,234.2 1715.8,234.5 1717.8,234.6 1719.8,233.7 1721.8,231.6 1723.8,232.4 1725.8,231.5 1727.8,230.9 1729.8,228.9 1731.8,225.7 1733.8,223.5 1735.8,223.8 1737.8,220.2 1739.8,219.0 1741.8,217.1 1743.8,212.0 1745.8,210.9 1747.8,208.7 1749.8,206.5 1751.8,204.2 1753.8,201.6 1755.8,199.3 1757.8,195.4 1759.8,194.5 1761.8,191.7 1763.8,190.2 1765.8,187.2 1767.8,185.3 1769.8,182.3 1771.8,178.8 1773.8,176.1 1775.8,174.1 1777.8,172.8 1779.8,173.1 1781.8,173.0 1783.8,174.0 1785.8,173.5 1787.8,173.2 1789.8,169.8 1791.8,169.9 1793.8,166.1 1795.8,163.9 1797.8,161.3 1799.8,157.2 1801.8,154.7 1803.8,152.0 1805.8,151.9 1807.8,154.4 1809.8,159.7 1811.8,161.9 1813.8,165.2 1815.8,171.7 1817.8,175.5 1819.8,183.1 1821.8,183.5 1823.8,188.7 1825.8,191.5 1827.8,191.6 1829.8,194.7 1831.8,196.7 1833.8,197.1 1835.8,197.3 1837.8,197.8 1839.8,196.5 1841.8,195.8 1843.8,194.3 1845.8,193.9 1847.8,191.1 1849.8,191.0 1851.8,187.7 1853.8,184.8 1855.8,183.4 1857.8,180.6 1859.8,175.7 1861.8,171.0 1863.8,171.0 1865.8,172.4 1867.8,177.7 1869.8,183.3 1871.8,185.0 1873.8,191.3 1875.8,193.7 1877.8,197.1 1879.8,198.6 1881.8,200.4 1883.8,202.5 1885.8,205.6 1887.8,207.7 1889.8,207.4 1891.8,209.7 1893.8,209.6 1895.8,209.2 1897.8,212.2 1899.8,213.6 1901.8,213.7 1903.8,215.4 1905.8,216.7 1907.8,216.4 1909.8,216.9 1911.8,219.1 1913.8,219.9 1915.8,220.3 1917.8,221.8 1919.8,222.4 1921.8,219.8 1923.8,220.3 1925.8,219.9 1927.8,219.1 1929.8,218.9 1931.8,217.0 1933.8,217.7 1935.8,218.5 1937.8,216.9 1939.8,215.3 1941.8,216.5 1943.8,217.5 1945.8,217.4 1947.8,217.5 1949.8,220.7 1951.8,219.2 1953.8,222.0 1955.8,222.6 1957.8,222.6 1959.8,226.1 1961.8,226.5 1963.8,226.2 1965.8,229.0 1967.8,229.0 1969.8,228.6 1971.8,230.8 1973.8,232.7 1975.8,233.8 1977.8,233.8 1979.8,233.9 1981.8,234.3 1983.8,233.7 1985.8,235.1 1987.8,234.1 1989.8,234.3 1991.8,234.6 1993.8,233.0 1995.8,233.4 1997.8,235.6 1999.8,234.4 2001.8,233.8 2003.8,234.3 2005.8,233.4 2007.8,234.0 2009.8,232.9 2011.8,233.6 2013.8,231.6 2015.8,234.2 2015.8,236.7" fill="#999" stroke="none"/>
<polyline points="1425.8,235.8 1427.8,229.9 1429.8,225.2 1431.8,221.8 1433.8,221.0 1435.8,219.5 1437.8,217.9 1439.8,213.1 1441.8,209.9 1443.8,205.2 1445.8,209.3 1447.8,210.2 1449.8,214.2 1451.8,215.9 1453.8,216.4 1455.8,214.2 1457.8,211.1 1459.8,210.2 1461.8,212.5 1463.8,216.4 1465.8,218.0 1467.8,219.9 1469.8,224.6 1471.8,226.3 1473.8,227.4 1475.8,230.0 1477.8,231.3 1479.8,231.5 1481.8,231.9 1483.8,234.0 1485.8,235.1 1487.8,234.2 1489.8,233.7 1491.8,234.9 1493.8,235.3 1495.8,234.3 1497.8,235.2 1499.8,235.7 1501.8,234.5 1503.8,233.9 1505.8,235.1 1507.8,235.0 1509.8,235.8 1511.8,233.5 1513.8,234.0 1515.8,233.6 1517.8,232.6 1519.8,234.2 1521.8,234.3 1523.8,232.6 1525.8,234.0 1527.8,232.5 1529.8,231.2 1531.8,229.8 1533.8,228.9 1535.8,225.1 1537.8,225.0 1539.8,222.5 1541.8,217.3 1543.8,216.0 1545.8,210.2 1547.8,202.8 1549.8,192.6 1551.8,186.2 1553.8,184.7 1555.8,186.5 1557.8,192.8 1559.8,195.6 1561.8,195.9 1563.8,192.1 1565.8,189.5 1567.8,184.6 1569.8,180.2 1571.8,178.9 1573.8,178.3 1575.8,177.7 1577.8,172.8 1579.8,171.0 1581.8,163.9 1583.8,157.6 1585.8,155.0 1587.8,162.1 1589.8,169.3 1591.8,182.5 1593.8,193.4 1595.8,197.0 1597.8,202.7 1599.8,205.6 1601.8,210.2 1603.8,213.8 1605.8,216.5 1607.8,214.8 1609.8,217.4 1611.8,219.5 1613.8,220.3 1615.8,218.6 1617.8,216.4 1619.8,215.9 1621.8,213.8 1623.8,210.0 1625.8,203.2 1627.8,196.5 1629.8,187.9 1631.8,175.6 1633.8,159.0 1635.8,141.2 1637.8,129.0 1639.8,125.8 1641.8,130.5 1643.8,143.2 1645.8,162.6 1647.8,176.9 1649.8,189.4 1651.8,198.1 1653.8,207.2 1655.8,213.8 1657.8,221.8 1659.8,227.7 1661.8,228.2 1663.8,230.7 1665.8,232.6 1667.8,231.7 1669.8,232.6 1671.8,232.9 1673.8,233.7 1675.8,234.8 1677.8,233.9 1679.8,234.9 1681.8,233.8 1683.8,234.6 1685.8,232.3 1687.8,233.1 1689.8,235.4 1691.8,234.2 1693.8,235.4 1695.8,235.5 1697.8,236.3 1699.8,235.9 1701.8,236.1 1703.8,235.0 1705.8,234.5 1707.8,234.4 1709.8,234.6 1711.8,233.8 1713.8,234.2 1715.8,234.5 1717.8,234.6 1719.8,233.7 1721.8,231.6 1723.8,232.4 1725.8,231.5 1727.8,230.9 1729.8,228.9 1731.8,225.7 1733.8,223.5 1735.8,223.8 1737.8,220.2 1739.8,219.0 1741.8,217.1 1743.8,212.0 1745.8,210.9 1747.8,208.7 1749.8,206.5 1751.8,204.2 1753.8,201.6 1755.8,199.3 1757.8,195.4 1759.8,194.5 1761.8,191.7 1763.8,190.2 1765.8,187.2 1767.8,185.3 1769.8,182.3 1771.8,178.8 1773.8,176.1 1775.8,174.1 1777.8,172.8 1779.8,173.1 1781.8,173.0 1783.8,174.0 1785.8,173.5 1787.8,173.2 1789.8,169.8 1791.8,169.9 1793.8,166.1 1795.8,163.9 1797.8,161.3 1799.8,157.2 1801.8,154.7 1803.8,152.0 1805.8,151.9 1807.8,154.4 1809.8,159.7 1811.8,161.9 1813.8,165.2 1815.8,171.7 1817.8,175.5 1819.8,183.1 1821.8,183.5 1823.8,188.7 1825.8,191.5 1827.8,191.6 1829.8,194.7 1831.8,196.7 1833.8,197.1 1835.8,197.3 1837.8,197.8 1839.8,196.5 1841.8,195.8 1843.8,194.3 1845.8,193.9 1847.8,191.1 1849.8,191.0 1851.8,187.7 1853.8,184.8 1855.8,183.4 1857.8,180.6 1859.8,175.7 1861.8,171.0 1863.8,171.0 1865.8,172.4 1867.8,177.7 1869.8,183.3 1871.8,185.0 1873.8,191.3 1875.8,193.7 1877.8,197.1 1879.8,198.6 1881.8,200.4 1883.8,202.5 1885.8,205.6 1887.8,207.7 1889.8,207.4 1891.8,209.7 1893.8,209.6 1895.8,209.2 1897.8,212.2 1899.8,213.6 1901.8,213.7 1903.8,215.4 1905.8,216.7 1907.8,216.4 1909.8,216.9 1911.8,219.1 1913.8,219.9 1915.8,220.3 1917.8,221.8 1919.8,222.4 1921.8,219.8 1923.8,220.3 1925.8,219.9 1927.8,219.1 1929.8,218.9 1931.8,217.0 1933.8,217.7 1935.8,218.5 1937.8,216.9 1939.8,215.3 1941.8,216.5 1943.8,217.5 1945.8,217.4 1947.8,217.5 1949.8,220.7 1951.8,219.2 1953.8,222.0 1955.8,222.6 1957.8,222.6 1959.8,226.1 1961.8,226.5 1963.8,226.2 1965.8,229.0 1967.8,229.0 1969.8,228.6 1971.8,230.8 1973.8,232.7 1975.8,233.8 1977.8,233.8 1979.8,233.9 1981.8,234.3 1983.8,233.7 1985.8,235.1 1987.8,234.1 1989.8,234.3 1991.8,234.6 1993.8,233.0 1995.8,233.4 1997.8,235.6 1999.8,234.4 2001.8,233.8 2003.8,234.3 2005.8,233.4 2007.8,234.0 2009.8,232.9 2011.8,233.6 2013.8,231.6 2015.8,234.2" fill="none" stroke="#5a5a5a" stroke-width="1.3" stroke-linejoin="round"/>
<polygon points="1425.8,413.8 1425.8,412.9 1427.8,407.0 1429.8,402.3 1431.8,398.9 1433.8,398.1 1435.8,396.6 1437.8,395.0 1439.8,390.2 1441.8,387.0 1443.8,382.3 1445.8,386.4 1447.8,387.3 1449.8,391.3 1451.8,393.0 1453.8,393.5 1455.8,391.3 1457.8,388.2 1459.8,387.3 1461.8,389.6 1463.8,393.5 1465.8,395.1 1467.8,397.0 1469.8,401.7 1471.8,403.4 1473.8,404.5 1475.8,407.1 1477.8,408.4 1479.8,408.6 1481.8,409.0 1483.8,411.1 1485.8,412.2 1487.8,411.3 1489.8,410.8 1491.8,412.0 1493.8,412.4 1495.8,411.4 1497.8,412.3 1499.8,412.8 1501.8,411.6 1503.8,411.0 1505.8,412.2 1507.8,412.1 1509.8,412.9 1511.8,410.6 1513.8,411.1 1515.8,410.7 1517.8,409.7 1519.8,411.3 1521.8,411.4 1523.8,409.7 1525.8,411.1 1527.8,409.6 1529.8,408.3 1531.8,406.9 1533.8,406.0 1535.8,402.2 1537.8,402.1 1539.8,399.6 1541.8,394.4 1543.8,393.1 1545.8,387.3 1547.8,379.9 1549.8,369.7 1551.8,363.3 1553.8,361.8 1555.8,363.6 1557.8,369.9 1559.8,372.7 1561.8,373.0 1563.8,369.2 1565.8,366.6 1567.8,361.7 1569.8,357.3 1571.8,356.0 1573.8,355.4 1575.8,354.8 1577.8,349.9 1579.8,348.1 1581.8,341.0 1583.8,334.7 1585.8,332.1 1587.8,339.2 1589.8,346.4 1591.8,359.6 1593.8,370.5 1595.8,374.1 1597.8,379.8 1599.8,382.7 1601.8,387.3 1603.8,390.9 1605.8,393.6 1607.8,391.9 1609.8,394.5 1611.8,396.6 1613.8,397.4 1615.8,395.7 1617.8,393.5 1619.8,393.0 1621.8,390.9 1623.8,387.1 1625.8,380.3 1627.8,373.6 1629.8,365.0 1631.8,352.7 1633.8,336.1 1635.8,318.3 1637.8,306.1 1639.8,302.9 1641.8,307.6 1643.8,320.3 1645.8,339.7 1647.8,354.0 1649.8,366.5 1651.8,375.2 1653.8,384.3 1655.8,390.9 1657.8,398.9 1659.8,404.8 1661.8,405.3 1663.8,407.8 1665.8,409.7 1667.8,408.8 1669.8,409.7 1671.8,410.0 1673.8,410.8 1675.8,411.9 1677.8,411.0 1679.8,412.0 1681.8,410.9 1683.8,411.7 1685.8,409.4 1687.8,410.2 1689.8,412.5 1691.8,411.3 1693.8,412.5 1695.8,412.6 1697.8,413.4 1699.8,413.0 1701.8,413.2 1703.8,412.1 1705.8,411.6 1707.8,411.5 1709.8,411.7 1711.8,410.9 1713.8,411.3 1715.8,411.6 1717.8,411.7 1719.8,410.8 1721.8,408.7 1723.8,409.5 1725.8,408.6 1727.8,408.0 1729.8,406.0 1731.8,402.8 1733.8,400.6 1735.8,400.9 1737.8,397.3 1739.8,396.1 1741.8,394.2 1743.8,389.1 1745.8,388.0 1747.8,385.8 1749.8,383.6 1751.8,381.3 1753.8,378.7 1755.8,376.4 1757.8,372.5 1759.8,371.6 1761.8,368.8 1763.8,367.3 1765.8,364.3 1767.8,362.4 1769.8,359.4 1771.8,355.9 1773.8,353.2 1775.8,351.2 1777.8,349.9 1779.8,350.2 1781.8,350.1 1783.8,351.1 1785.8,350.6 1787.8,350.3 1789.8,346.9 1791.8,347.0 1793.8,343.2 1795.8,341.0 1797.8,338.4 1799.8,334.3 1801.8,331.8 1803.8,329.1 1805.8,329.0 1807.8,331.5 1809.8,336.8 1811.8,339.0 1813.8,342.3 1815.8,348.8 1817.8,352.6 1819.8,360.2 1821.8,360.6 1823.8,365.8 1825.8,368.6 1827.8,368.7 1829.8,371.8 1831.8,373.8 1833.8,374.2 1835.8,374.4 1837.8,374.9 1839.8,373.6 1841.8,372.9 1843.8,371.4 1845.8,371.0 1847.8,368.2 1849.8,368.1 1851.8,364.8 1853.8,361.9 1855.8,360.5 1857.8,357.7 1859.8,352.8 1861.8,348.1 1863.8,348.1 1865.8,349.5 1867.8,354.8 1869.8,360.4 1871.8,362.1 1873.8,368.4 1875.8,370.8 1877.8,374.2 1879.8,375.7 1881.8,377.5 1883.8,379.6 1885.8,382.7 1887.8,384.8 1889.8,384.5 1891.8,386.8 1893.8,386.7 1895.8,386.3 1897.8,389.3 1899.8,390.7 1901.8,390.8 1903.8,392.5 1905.8,393.8 1907.8,393.5 1909.8,394.0 1911.8,396.2 1913.8,397.0 1915.8,397.4 1917.8,398.9 1919.8,399.5 1921.8,396.9 1923.8,397.4 1925.8,397.0 1927.8,396.2 1929.8,396.0 1931.8,394.1 1933.8,394.8 1935.8,395.6 1937.8,394.0 1939.8,392.4 1941.8,393.6 1943.8,394.6 1945.8,394.5 1947.8,394.6 1949.8,397.8 1951.8,396.3 1953.8,399.1 1955.8,399.7 1957.8,399.7 1959.8,403.2 1961.8,403.6 1963.8,403.3 1965.8,406.1 1967.8,406.1 1969.8,405.7 1971.8,407.9 1973.8,409.8 1975.8,410.9 1977.8,410.9 1979.8,411.0 1981.8,411.4 1983.8,410.8 1985.8,412.2 1987.8,411.2 1989.8,411.4 1991.8,411.7 1993.8,410.1 1995.8,410.5 1997.8,412.7 1999.8,411.5 2001.8,410.9 2003.8,411.4 2005.8,410.5 2007.8,411.1 2009.8,410.0 2011.8,410.7 2013.8,408.7 2015.8,411.3 2015.8,413.8" fill="#999" stroke="none"/>
<polyline points="1425.8,412.9 1427.8,407.0 1429.8,402.3 1431.8,398.9 1433.8,398.1 1435.8,396.6 1437.8,395.0 1439.8,390.2 1441.8,387.0 1443.8,382.3 1445.8,386.4 1447.8,387.3 1449.8,391.3 1451.8,393.0 1453.8,393.5 1455.8,391.3 1457.8,388.2 1459.8,387.3 1461.8,389.6 1463.8,393.5 1465.8,395.1 1467.8,397.0 1469.8,401.7 1471.8,403.4 1473.8,404.5 1475.8,407.1 1477.8,408.4 1479.8,408.6 1481.8,409.0 1483.8,411.1 1485.8,412.2 1487.8,411.3 1489.8,410.8 1491.8,412.0 1493.8,412.4 1495.8,411.4 1497.8,412.3 1499.8,412.8 1501.8,411.6 1503.8,411.0 1505.8,412.2 1507.8,412.1 1509.8,412.9 1511.8,410.6 1513.8,411.1 1515.8,410.7 1517.8,409.7 1519.8,411.3 1521.8,411.4 1523.8,409.7 1525.8,411.1 1527.8,409.6 1529.8,408.3 1531.8,406.9 1533.8,406.0 1535.8,402.2 1537.8,402.1 1539.8,399.6 1541.8,394.4 1543.8,393.1 1545.8,387.3 1547.8,379.9 1549.8,369.7 1551.8,363.3 1553.8,361.8 1555.8,363.6 1557.8,369.9 1559.8,372.7 1561.8,373.0 1563.8,369.2 1565.8,366.6 1567.8,361.7 1569.8,357.3 1571.8,356.0 1573.8,355.4 1575.8,354.8 1577.8,349.9 1579.8,348.1 1581.8,341.0 1583.8,334.7 1585.8,332.1 1587.8,339.2 1589.8,346.4 1591.8,359.6 1593.8,370.5 1595.8,374.1 1597.8,379.8 1599.8,382.7 1601.8,387.3 1603.8,390.9 1605.8,393.6 1607.8,391.9 1609.8,394.5 1611.8,396.6 1613.8,397.4 1615.8,395.7 1617.8,393.5 1619.8,393.0 1621.8,390.9 1623.8,387.1 1625.8,380.3 1627.8,373.6 1629.8,365.0 1631.8,352.7 1633.8,336.1 1635.8,318.3 1637.8,306.1 1639.8,302.9 1641.8,307.6 1643.8,320.3 1645.8,339.7 1647.8,354.0 1649.8,366.5 1651.8,375.2 1653.8,384.3 1655.8,390.9 1657.8,398.9 1659.8,404.8 1661.8,405.3 1663.8,407.8 1665.8,409.7 1667.8,408.8 1669.8,409.7 1671.8,410.0 1673.8,410.8 1675.8,411.9 1677.8,411.0 1679.8,412.0 1681.8,410.9 1683.8,411.7 1685.8,409.4 1687.8,410.2 1689.8,412.5 1691.8,411.3 1693.8,412.5 1695.8,412.6 1697.8,413.4 1699.8,413.0 1701.8,413.2 1703.8,412.1 1705.8,411.6 1707.8,411.5 1709.8,411.7 1711.8,410.9 1713.8,411.3 1715.8,411.6 1717.8,411.7 1719.8,410.8 1721.8,408.7 1723.8,409.5 1725.8,408.6 1727.8,408.0 1729.8,406.0 1731.8,402.8 1733.8,400.6 1735.8,400.9 1737.8,397.3 1739.8,396.1 1741.8,394.2 1743.8,389.1 1745.8,388.0 1747.8,385.8 1749.8,383.6 1751.8,381.3 1753.8,378.7 1755.8,376.4 1757.8,372.5 1759.8,371.6 1761.8,368.8 1763.8,367.3 1765.8,364.3 1767.8,362.4 1769.8,359.4 1771.8,355.9 1773.8,353.2 1775.8,351.2 1777.8,349.9 1779.8,350.2 1781.8,350.1 1783.8,351.1 1785.8,350.6 1787.8,350.3 1789.8,346.9 1791.8,347.0 1793.8,343.2 1795.8,341.0 1797.8,338.4 1799.8,334.3 1801.8,331.8 1803.8,329.1 1805.8,329.0 1807.8,331.5 1809.8,336.8 1811.8,339.0 1813.8,342.3 1815.8,348.8 1817.8,352.6 1819.8,360.2 1821.8,360.6 1823.8,365.8 1825.8,368.6 1827.8,368.7 1829.8,371.8 1831.8,373.8 1833.8,374.2 1835.8,374.4 1837.8,374.9 1839.8,373.6 1841.8,372.9 1843.8,371.4 1845.8,371.0 1847.8,368.2 1849.8,368.1 1851.8,364.8 1853.8,361.9 1855.8,360.5 1857.8,357.7 1859.8,352.8 1861.8,348.1 1863.8,348.1 1865.8,349.5 1867.8,354.8 1869.8,360.4 1871.8,362.1 1873.8,368.4 1875.8,370.8 1877.8,374.2 1879.8,375.7 1881.8,377.5 1883.8,379.6 1885.8,382.7 1887.8,384.8 1889.8,384.5 1891.8,386.8 1893.8,386.7 1895.8,386.3 1897.8,389.3 1899.8,390.7 1901.8,390.8 1903.8,392.5 1905.8,393.8 1907.8,393.5 1909.8,394.0 1911.8,396.2 1913.8,397.0 1915.8,397.4 1917.8,398.9 1919.8,399.5 1921.8,396.9 1923.8,397.4 1925.8,397.0 1927.8,396.2 1929.8,396.0 1931.8,394.1 1933.8,394.8 1935.8,395.6 1937.8,394.0 1939.8,392.4 1941.8,393.6 1943.8,394.6 1945.8,394.5 1947.8,394.6 1949.8,397.8 1951.8,396.3 1953.8,399.1 1955.8,399.7 1957.8,399.7 1959.8,403.2 1961.8,403.6 1963.8,403.3 1965.8,406.1 1967.8,406.1 1969.8,405.7 1971.8,407.9 1973.8,409.8 1975.8,410.9 1977.8,410.9 1979.8,411.0 1981.8,411.4 1983.8,410.8 1985.8,412.2 1987.8,411.2 1989.8,411.4 1991.8,411.7 1993.8,410.1 1995.8,410.5 1997.8,412.7 1999.8,411.5 2001.8,410.9 2003.8,411.4 2005.8,410.5 2007.8,411.1 2009.8,410.0 2011.8,410.7 2013.8,408.7 2015.8,411.3" fill="none" stroke="#5a5a5a" stroke-width="1.3" stroke-linejoin="round"/>
<polygon points="1425.8,590.0 1425.8,589.1 1427.8,583.2 1429.8,578.5 1431.8,575.1 1433.8,574.3 1435.8,572.8 1437.8,571.2 1439.8,566.4 1441.8,563.2 1443.8,558.5 1445.8,562.6 1447.8,563.5 1449.8,567.5 1451.8,569.2 1453.8,569.7 1455.8,567.5 1457.8,564.4 1459.8,563.5 1461.8,565.8 1463.8,569.7 1465.8,571.3 1467.8,573.2 1469.8,577.9 1471.8,579.6 1473.8,580.7 1475.8,583.3 1477.8,584.6 1479.8,584.8 1481.8,585.2 1483.8,587.3 1485.8,588.4 1487.8,587.5 1489.8,587.0 1491.8,588.2 1493.8,588.6 1495.8,587.6 1497.8,588.5 1499.8,589.0 1501.8,587.8 1503.8,587.2 1505.8,588.4 1507.8,588.3 1509.8,589.1 1511.8,586.8 1513.8,587.3 1515.8,586.9 1517.8,585.9 1519.8,587.5 1521.8,587.6 1523.8,585.9 1525.8,587.3 1527.8,585.8 1529.8,584.5 1531.8,583.1 1533.8,582.2 1535.8,578.4 1537.8,578.3 1539.8,575.8 1541.8,570.6 1543.8,569.3 1545.8,563.5 1547.8,556.1 1549.8,545.9 1551.8,539.5 1553.8,538.0 1555.8,539.8 1557.8,546.1 1559.8,548.9 1561.8,549.2 1563.8,545.4 1565.8,542.8 1567.8,537.9 1569.8,533.5 1571.8,532.2 1573.8,531.6 1575.8,531.0 1577.8,526.1 1579.8,524.3 1581.8,517.2 1583.8,510.9 1585.8,508.3 1587.8,515.4 1589.8,522.6 1591.8,535.8 1593.8,546.7 1595.8,550.3 1597.8,556.0 1599.8,558.9 1601.8,563.5 1603.8,567.1 1605.8,569.8 1607.8,568.1 1609.8,570.7 1611.8,572.8 1613.8,573.6 1615.8,571.9 1617.8,569.7 1619.8,569.2 1621.8,567.1 1623.8,563.3 1625.8,556.5 1627.8,549.8 1629.8,541.2 1631.8,528.9 1633.8,512.3 1635.8,494.5 1637.8,482.3 1639.8,479.1 1641.8,483.8 1643.8,496.5 1645.8,515.9 1647.8,530.2 1649.8,542.7 1651.8,551.4 1653.8,560.5 1655.8,567.1 1657.8,575.1 1659.8,581.0 1661.8,581.5 1663.8,584.0 1665.8,585.9 1667.8,585.0 1669.8,585.9 1671.8,586.2 1673.8,587.0 1675.8,588.1 1677.8,587.2 1679.8,588.2 1681.8,587.1 1683.8,587.9 1685.8,585.6 1687.8,586.4 1689.8,588.7 1691.8,587.5 1693.8,588.7 1695.8,588.8 1697.8,589.6 1699.8,589.2 1701.8,589.4 1703.8,588.3 1705.8,587.8 1707.8,587.7 1709.8,587.9 1711.8,587.1 1713.8,587.5 1715.8,587.8 1717.8,587.9 1719.8,587.0 1721.8,584.9 1723.8,585.7 1725.8,584.8 1727.8,584.2 1729.8,582.2 1731.8,579.0 1733.8,576.8 1735.8,577.1 1737.8,573.5 1739.8,572.3 1741.8,570.4 1743.8,565.3 1745.8,564.2 1747.8,562.0 1749.8,559.8 1751.8,557.5 1753.8,554.9 1755.8,552.6 1757.8,548.7 1759.8,547.8 1761.8,545.0 1763.8,543.5 1765.8,540.5 1767.8,538.6 1769.8,535.6 1771.8,532.1 1773.8,529.4 1775.8,527.4 1777.8,526.1 1779.8,526.4 1781.8,526.3 1783.8,527.3 1785.8,526.8 1787.8,526.5 1789.8,523.1 1791.8,523.2 1793.8,519.4 1795.8,517.2 1797.8,514.6 1799.8,510.5 1801.8,508.0 1803.8,505.3 1805.8,505.2 1807.8,507.7 1809.8,513.0 1811.8,515.2 1813.8,518.5 1815.8,525.0 1817.8,528.8 1819.8,536.4 1821.8,536.8 1823.8,542.0 1825.8,544.8 1827.8,544.9 1829.8,548.0 1831.8,550.0 1833.8,550.4 1835.8,550.6 1837.8,551.1 1839.8,549.8 1841.8,549.1 1843.8,547.6 1845.8,547.2 1847.8,544.4 1849.8,544.3 1851.8,541.0 1853.8,538.1 1855.8,536.7 1857.8,533.9 1859.8,529.0 1861.8,524.3 1863.8,524.3 1865.8,525.7 1867.8,531.0 1869.8,536.6 1871.8,538.3 1873.8,544.6 1875.8,547.0 1877.8,550.4 1879.8,551.9 1881.8,553.7 1883.8,555.8 1885.8,558.9 1887.8,561.0 1889.8,560.7 1891.8,563.0 1893.8,562.9 1895.8,562.5 1897.8,565.5 1899.8,566.9 1901.8,567.0 1903.8,568.7 1905.8,570.0 1907.8,569.7 1909.8,570.2 1911.8,572.4 1913.8,573.2 1915.8,573.6 1917.8,575.1 1919.8,575.7 1921.8,573.1 1923.8,573.6 1925.8,573.2 1927.8,572.4 1929.8,572.2 1931.8,570.3 1933.8,571.0 1935.8,571.8 1937.8,570.2 1939.8,568.6 1941.8,569.8 1943.8,570.8 1945.8,570.7 1947.8,570.8 1949.8,574.0 1951.8,572.5 1953.8,575.3 1955.8,575.9 1957.8,575.9 1959.8,579.4 1961.8,579.8 1963.8,579.5 1965.8,582.3 1967.8,582.3 1969.8,581.9 1971.8,584.1 1973.8,586.0 1975.8,587.1 1977.8,587.1 1979.8,587.2 1981.8,587.6 1983.8,587.0 1985.8,588.4 1987.8,587.4 1989.8,587.6 1991.8,587.9 1993.8,586.3 1995.8,586.7 1997.8,588.9 1999.8,587.7 2001.8,587.1 2003.8,587.6 2005.8,586.7 2007.8,587.3 2009.8,586.2 2011.8,586.9 2013.8,584.9 2015.8,587.5 2015.8,590.0" fill="#999" stroke="none"/>
<polyline points="1425.8,589.1 1427.8,583.2 1429.8,578.5 1431.8,575.1 1433.8,574.3 1435.8,572.8 1437.8,571.2 1439.8,566.4 1441.8,563.2 1443.8,558.5 1445.8,562.6 1447.8,563.5 1449.8,567.5 1451.8,569.2 1453.8,569.7 1455.8,567.5 1457.8,564.4 1459.8,563.5 1461.8,565.8 1463.8,569.7 1465.8,571.3 1467.8,573.2 1469.8,577.9 1471.8,579.6 1473.8,580.7 1475.8,583.3 1477.8,584.6 1479.8,584.8 1481.8,585.2 1483.8,587.3 1485.8,588.4 1487.8,587.5 1489.8,587.0 1491.8,588.2 1493.8,588.6 1495.8,587.6 1497.8,588.5 1499.8,589.0 1501.8,587.8 1503.8,587.2 1505.8,588.4 1507.8,588.3 1509.8,589.1 1511.8,586.8 1513.8,587.3 1515.8,586.9 1517.8,585.9 1519.8,587.5 1521.8,587.6 1523.8,585.9 1525.8,587.3 1527.8,585.8 1529.8,584.5 1531.8,583.1 1533.8,582.2 1535.8,578.4 1537.8,578.3 1539.8,575.8 1541.8,570.6 1543.8,569.3 1545.8,563.5 1547.8,556.1 1549.8,545.9 1551.8,539.5 1553.8,538.0 1555.8,539.8 1557.8,546.1 1559.8,548.9 1561.8,549.2 1563.8,545.4 1565.8,542.8 1567.8,537.9 1569.8,533.5 1571.8,532.2 1573.8,531.6 1575.8,531.0 1577.8,526.1 1579.8,524.3 1581.8,517.2 1583.8,510.9 1585.8,508.3 1587.8,515.4 1589.8,522.6 1591.8,535.8 1593.8,546.7 1595.8,550.3 1597.8,556.0 1599.8,558.9 1601.8,563.5 1603.8,567.1 1605.8,569.8 1607.8,568.1 1609.8,570.7 1611.8,572.8 1613.8,573.6 1615.8,571.9 1617.8,569.7 1619.8,569.2 1621.8,567.1 1623.8,563.3 1625.8,556.5 1627.8,549.8 1629.8,541.2 1631.8,528.9 1633.8,512.3 1635.8,494.5 1637.8,482.3 1639.8,479.1 1641.8,483.8 1643.8,496.5 1645.8,515.9 1647.8,530.2 1649.8,542.7 1651.8,551.4 1653.8,560.5 1655.8,567.1 1657.8,575.1 1659.8,581.0 1661.8,581.5 1663.8,584.0 1665.8,585.9 1667.8,585.0 1669.8,585.9 1671.8,586.2 1673.8,587.0 1675.8,588.1 1677.8,587.2 1679.8,588.2 1681.8,587.1 1683.8,587.9 1685.8,585.6 1687.8,586.4 1689.8,588.7 1691.8,587.5 1693.8,588.7 1695.8,588.8 1697.8,589.6 1699.8,589.2 1701.8,589.4 1703.8,588.3 1705.8,587.8 1707.8,587.7 1709.8,587.9 1711.8,587.1 1713.8,587.5 1715.8,587.8 1717.8,587.9 1719.8,587.0 1721.8,584.9 1723.8,585.7 1725.8,584.8 1727.8,584.2 1729.8,582.2 1731.8,579.0 1733.8,576.8 1735.8,577.1 1737.8,573.5 1739.8,572.3 1741.8,570.4 1743.8,565.3 1745.8,564.2 1747.8,562.0 1749.8,559.8 1751.8,557.5 1753.8,554.9 1755.8,552.6 1757.8,548.7 1759.8,547.8 1761.8,545.0 1763.8,543.5 1765.8,540.5 1767.8,538.6 1769.8,535.6 1771.8,532.1 1773.8,529.4 1775.8,527.4 1777.8,526.1 1779.8,526.4 1781.8,526.3 1783.8,527.3 1785.8,526.8 1787.8,526.5 1789.8,523.1 1791.8,523.2 1793.8,519.4 1795.8,517.2 1797.8,514.6 1799.8,510.5 1801.8,508.0 1803.8,505.3 1805.8,505.2 1807.8,507.7 1809.8,513.0 1811.8,515.2 1813.8,518.5 1815.8,525.0 1817.8,528.8 1819.8,536.4 1821.8,536.8 1823.8,542.0 1825.8,544.8 1827.8,544.9 1829.8,548.0 1831.8,550.0 1833.8,550.4 1835.8,550.6 1837.8,551.1 1839.8,549.8 1841.8,549.1 1843.8,547.6 1845.8,547.2 1847.8,544.4 1849.8,544.3 1851.8,541.0 1853.8,538.1 1855.8,536.7 1857.8,533.9 1859.8,529.0 1861.8,524.3 1863.8,524.3 1865.8,525.7 1867.8,531.0 1869.8,536.6 1871.8,538.3 1873.8,544.6 1875.8,547.0 1877.8,550.4 1879.8,551.9 1881.8,553.7 1883.8,555.8 1885.8,558.9 1887.8,561.0 1889.8,560.7 1891.8,563.0 1893.8,562.9 1895.8,562.5 1897.8,565.5 1899.8,566.9 1901.8,567.0 1903.8,568.7 1905.8,570.0 1907.8,569.7 1909.8,570.2 1911.8,572.4 1913.8,573.2 1915.8,573.6 1917.8,575.1 1919.8,575.7 1921.8,573.1 1923.8,573.6 1925.8,573.2 1927.8,572.4 1929.8,572.2 1931.8,570.3 1933.8,571.0 1935.8,571.8 1937.8,570.2 1939.8,568.6 1941.8,569.8 1943.8,570.8 1945.8,570.7 1947.8,570.8 1949.8,574.0 1951.8,572.5 1953.8,575.3 1955.8,575.9 1957.8,575.9 1959.8,579.4 1961.8,579.8 1963.8,579.5 1965.8,582.3 1967.8,582.3 1969.8,581.9 1971.8,584.1 1973.8,586.0 1975.8,587.1 1977.8,587.1 1979.8,587.2 1981.8,587.6 1983.8,587.0 1985.8,588.4 1987.8,587.4 1989.8,587.6 1991.8,587.9 1993.8,586.3 1995.8,586.7 1997.8,588.9 1999.8,587.7 2001.8,587.1 2003.8,587.6 2005.8,586.7 2007.8,587.3 2009.8,586.2 2011.8,586.9 2013.8,584.9 2015.8,587.5" fill="none" stroke="#5a5a5a" stroke-width="1.3" stroke-linejoin="round"/>
<g stroke="#000" stroke-width="2.4" fill="none" stroke-linecap="butt">
<rect x="1425.0" y="59.7" width="591.5" height="530.3"/>
<path d="M1425.0 236.7H2016.5M1425.0 413.8H2016.5" stroke-width="2"/>
<path d="M1425.0 590.0V595.5M1509.5 590.0V595.5M1509.5 231.2V242.2M1509.5 408.3V419.3M1594.0 590.0V595.5M1594.0 231.2V242.2M1594.0 408.3V419.3M1678.5 590.0V595.5M1678.5 231.2V242.2M1678.5 408.3V419.3M1763.0 590.0V595.5M1763.0 231.2V242.2M1763.0 408.3V419.3M1847.5 590.0V595.5M1847.5 231.2V242.2M1847.5 408.3V419.3M1932.0 590.0V595.5M1932.0 231.2V242.2M1932.0 408.3V419.3M2016.5 590.0V595.5" stroke-width="2"/>
</g>
<polyline points="1427.2,236.5 1429.0,234.3 1430.8,229.9 1432.6,216.2 1434.4,220.7 1436.2,212.7 1438.0,209.9 1439.8,213.4 1441.6,204.5 1443.4,199.3 1445.2,202.1 1447.0,200.1 1448.8,200.9 1450.6,211.9 1452.4,215.0 1454.2,203.2 1456.0,212.0 1457.8,212.4 1459.6,212.2 1461.4,208.2 1463.2,216.5 1465.0,221.9 1466.8,234.3 1468.6,230.6 1470.4,236.5 1472.2,236.5 1474.0,226.3 1475.8,236.5 1477.6,229.7 1479.4,235.7 1481.2,233.5 1483.0,236.5 1484.8,236.5 1486.6,236.5 1488.4,231.9 1490.2,236.5 1492.0,236.5 1493.8,231.3 1495.6,235.9 1497.4,233.8 1499.2,230.4 1501.0,224.8 1502.8,231.1 1504.6,228.3 1506.4,231.8 1508.2,232.3 1510.0,235.4 1511.8,224.9 1513.6,232.3 1515.4,231.7 1517.2,229.3 1519.0,232.1 1520.8,230.5 1522.6,233.5 1524.4,232.8 1526.2,229.0 1528.0,232.1 1529.8,234.3 1531.6,227.0 1533.4,227.8 1535.2,233.9 1537.0,227.8 1538.8,221.6 1540.6,219.7 1542.4,224.5 1544.2,214.9 1546.0,199.3 1547.8,205.4 1549.6,194.7 1551.4,195.5 1553.2,190.1 1555.0,199.3 1556.8,200.8 1558.6,200.8 1560.4,209.8 1562.2,215.4 1564.0,205.4 1565.8,202.3 1567.6,194.9 1569.4,198.9 1571.2,198.6 1573.0,196.3 1574.8,210.5 1576.6,211.1 1578.4,210.6 1580.2,209.7 1582.0,220.6 1583.8,226.7 1585.6,223.1 1587.4,222.2 1589.2,228.8 1591.0,223.3 1592.8,219.4 1594.6,236.5 1596.4,236.5 1598.2,230.5 1600.0,232.9 1601.8,236.5 1603.6,229.2 1605.4,235.2 1607.2,236.5 1609.0,236.5 1610.8,232.4 1612.6,232.6 1614.4,236.5 1616.2,231.8 1618.0,236.5 1619.8,223.7 1621.6,222.7 1623.4,215.7 1625.2,205.6 1627.0,190.5 1628.8,192.8 1630.6,176.2 1632.4,167.8 1634.2,156.3 1636.0,140.7 1637.8,135.9 1639.6,140.1 1641.4,158.5 1643.2,163.3 1645.0,165.8 1646.8,184.7 1648.6,192.1 1650.4,208.9 1652.2,209.2 1654.0,220.5 1655.8,223.9 1657.6,228.9 1659.4,227.6 1661.2,232.2 1663.0,234.8 1664.8,236.5 1666.6,236.5 1668.4,229.3 1670.2,232.6 1672.0,236.5 1673.8,235.9 1675.6,229.9 1677.4,229.6 1679.2,236.5 1681.0,234.0 1682.8,223.1 1684.6,236.5 1686.4,233.3 1688.2,231.4 1690.0,227.9 1691.8,225.2 1693.6,227.1 1695.4,226.4 1697.2,224.7 1699.0,220.7 1700.8,235.8 1702.6,235.5 1704.4,232.1 1706.2,230.0 1708.0,226.6 1709.8,227.2 1711.6,228.9 1713.4,225.1 1715.2,230.1 1717.0,228.4 1718.8,226.8 1720.6,227.6 1722.4,224.8 1724.2,226.0 1726.0,217.9 1727.8,212.4 1729.6,216.3 1731.4,218.9 1733.2,219.7 1735.0,214.1 1736.8,203.2 1738.6,204.2 1740.4,199.5 1742.2,205.6 1744.0,203.4 1745.8,198.7 1747.6,209.1 1749.4,205.0 1751.2,198.1 1753.0,202.2 1754.8,187.8 1756.6,197.2 1758.4,194.2 1760.2,201.6 1762.0,196.0 1763.8,191.4 1765.6,185.8 1767.4,183.8 1769.2,185.8 1771.0,182.0 1772.8,178.5 1774.6,185.7 1776.4,176.5 1778.2,169.5 1780.0,177.4 1781.8,172.1 1783.6,173.9 1785.4,175.6 1787.2,164.9 1789.0,160.8 1790.8,162.7 1792.6,168.5 1794.4,170.8 1796.2,167.9 1798.0,157.5 1799.8,158.3 1801.6,160.4 1803.4,157.5 1805.2,164.5 1807.0,167.3 1808.8,176.0 1810.6,172.1 1812.4,185.3 1814.2,183.4 1816.0,182.4 1817.8,176.2 1819.6,185.7 1821.4,186.5 1823.2,193.4 1825.0,189.9 1826.8,198.9 1828.6,189.7 1830.4,183.6 1832.2,194.2 1834.0,186.6 1835.8,193.6 1837.6,190.6 1839.4,199.1 1841.2,190.1 1843.0,197.1 1844.8,185.4 1846.6,196.7 1848.4,186.2 1850.2,191.6 1852.0,193.7 1853.8,184.6 1855.6,183.7 1857.4,187.8 1859.2,181.5 1861.0,181.5 1862.8,188.5 1864.6,187.5 1866.4,187.8 1868.2,192.5 1870.0,183.8 1871.8,184.2 1873.6,193.9 1875.4,202.7 1877.2,198.1 1879.0,200.7 1880.8,205.5 1882.6,208.2 1884.4,208.7 1886.2,204.0 1888.0,209.5 1889.8,207.0 1891.6,209.0 1893.4,214.2 1895.2,220.7 1897.0,202.1 1898.8,207.5 1900.6,203.9 1902.4,206.3 1904.2,217.4 1906.0,223.8 1907.8,216.9 1909.6,210.2 1911.4,205.9 1913.2,204.8 1915.0,219.0 1916.8,218.2 1918.6,212.9 1920.4,220.0 1922.2,217.4 1924.0,219.3 1925.8,212.4 1927.6,219.8 1929.4,206.8 1931.2,214.4 1933.0,219.0 1934.8,210.9 1936.6,215.6 1938.4,217.1 1940.2,217.1 1942.0,216.3 1943.8,215.1 1945.6,218.8 1947.4,229.7 1949.2,216.9 1951.0,216.5 1952.8,223.0 1954.6,206.2 1956.4,212.8 1958.2,215.4 1960.0,219.6 1961.8,218.3 1963.6,221.7 1965.4,222.2 1967.2,226.9 1969.0,233.2 1970.8,229.8 1972.6,236.5 1974.4,225.6 1976.2,236.5 1978.0,236.5 1979.8,232.7 1981.6,234.8 1983.4,225.1 1985.2,236.0 1987.0,232.5 1988.8,234.7 1990.6,236.5 1992.4,236.4 1994.2,236.5 1996.0,236.2 1997.8,236.5 1999.6,230.5 2001.4,236.5 2003.2,227.6 2005.0,232.7 2006.8,221.6 2008.6,234.3 2010.4,236.5 2012.2,225.0 2014.0,229.0 2015.8,229.6" fill="none" stroke="#c23c39" stroke-width="3.8" stroke-linejoin="round" stroke-linecap="round"/>
<polyline points="1426.2,410.5 1428.1,399.9 1430.0,400.0 1431.9,411.4 1433.8,413.4 1435.7,409.6 1437.6,413.4 1439.5,413.4 1441.4,409.6 1443.3,408.0 1445.2,408.5 1447.1,408.3 1449.0,409.8 1450.9,411.6 1452.8,413.4 1454.7,404.5 1456.6,398.0 1458.5,409.3 1460.4,411.0 1462.3,412.5 1464.2,413.4 1466.1,410.7 1468.0,413.4 1469.9,412.9 1471.8,411.8 1473.7,411.6 1475.6,413.4 1477.5,413.3 1479.4,411.2 1481.3,411.0 1483.2,413.4 1485.1,411.5 1487.0,413.4 1488.9,413.4 1490.8,407.8 1492.7,413.4 1494.6,411.6 1496.5,409.9 1498.4,410.9 1500.3,413.0 1502.2,412.6 1504.1,412.7 1506.0,410.5 1507.9,413.4 1509.8,413.4 1511.7,413.4 1513.6,413.4 1515.5,413.4 1517.4,413.4 1519.3,413.2 1521.2,413.4 1523.1,413.0 1525.0,412.9 1526.9,413.4 1528.8,408.4 1530.7,410.9 1532.6,412.2 1534.5,407.1 1536.4,408.2 1538.3,413.2 1540.2,406.8 1542.1,406.1 1544.0,405.7 1545.9,401.5 1547.8,397.1 1549.7,394.8 1551.6,394.7 1553.5,396.3 1555.4,400.6 1557.3,406.2 1559.2,407.9 1561.1,413.4 1563.0,413.4 1564.9,413.4 1566.8,413.4 1568.7,412.1 1570.6,413.3 1572.5,412.9 1574.4,410.1 1576.3,413.4 1578.2,413.1 1580.1,412.6 1582.0,410.8 1583.9,406.9 1585.8,413.4 1587.7,412.0 1589.6,408.1 1591.5,413.4 1593.4,411.2 1595.3,413.4 1597.2,412.6 1599.1,413.4 1601.0,413.3 1602.9,413.4 1604.8,413.0 1606.7,413.4 1608.6,409.4 1610.5,413.4 1612.4,411.8 1614.3,408.7 1616.2,408.4 1618.1,405.5 1620.0,403.8 1621.9,402.4 1623.8,395.1 1625.7,391.8 1627.6,384.5 1629.5,373.3 1631.4,359.2 1633.3,339.0 1635.2,324.9 1637.1,310.9 1639.0,293.4 1640.9,292.7 1642.8,305.6 1644.7,324.4 1646.6,338.5 1648.5,357.6 1650.4,370.7 1652.3,382.5 1654.2,390.9 1656.1,397.2 1658.0,404.7 1659.9,411.3 1661.8,410.3 1663.7,408.8 1665.6,412.0 1667.5,412.1 1669.4,409.3 1671.3,412.3 1673.2,410.1 1675.1,411.0 1677.0,410.9 1678.9,413.4 1680.8,410.9 1682.7,411.9 1684.6,412.9 1686.5,413.4 1688.4,413.4 1690.3,410.8 1692.2,413.4 1694.1,413.4 1696.0,413.4 1697.9,413.4 1699.8,412.0 1701.7,413.1 1703.6,412.5 1705.5,413.4 1707.4,413.4 1709.3,413.2 1711.2,411.9 1713.1,413.4 1715.0,411.3 1716.9,413.2 1718.8,413.2 1720.7,410.8 1722.6,413.4 1724.5,413.4 1726.4,413.0 1728.3,413.3 1730.2,412.9 1732.1,409.8 1734.0,413.4 1735.9,410.8 1737.8,411.3 1739.7,413.4 1741.6,413.4 1743.5,411.4 1745.4,413.4 1747.3,413.4 1749.2,413.3 1751.1,412.9 1753.0,413.4 1754.9,412.2 1756.8,411.3 1758.7,413.4 1760.6,413.4 1762.5,410.6 1764.4,409.9 1766.3,408.3 1768.2,407.0 1770.1,405.2 1772.0,403.0 1773.9,406.6 1775.8,403.3 1777.7,403.3 1779.6,405.7 1781.5,400.4 1783.4,401.6 1785.3,397.1 1787.2,397.7 1789.1,399.6 1791.0,397.3 1792.9,394.8 1794.8,394.6 1796.7,398.3 1798.6,396.3 1800.5,400.0 1802.4,399.9 1804.3,399.5 1806.2,400.9 1808.1,403.3 1810.0,402.8 1811.9,402.1 1813.8,406.0 1815.7,406.4 1817.6,408.3 1819.5,411.2 1821.4,411.8 1823.3,413.4 1825.2,411.4 1827.1,411.1 1829.0,411.4 1830.9,412.9 1832.8,410.8 1834.7,411.7 1836.6,410.9 1838.5,411.1 1840.4,412.3 1842.3,413.4 1844.2,412.0 1846.1,413.3 1848.0,413.0 1849.9,412.5 1851.8,412.9 1853.7,413.4 1855.6,412.3 1857.5,413.4 1859.4,412.7 1861.3,408.8 1863.2,408.0 1865.1,407.1 1867.0,404.8 1868.9,408.0 1870.8,406.0 1872.7,405.7 1874.6,402.3 1876.5,404.7 1878.4,402.5 1880.3,407.6 1882.2,402.6 1884.1,402.9 1886.0,402.8 1887.9,400.7 1889.8,400.4 1891.7,399.7 1893.6,401.4 1895.5,397.7 1897.4,398.1 1899.3,398.3 1901.2,396.4 1903.1,394.1 1905.0,394.1 1906.9,395.4 1908.8,394.4 1910.7,398.1 1912.6,396.4 1914.5,396.5 1916.4,394.9 1918.3,397.9 1920.2,396.4 1922.1,395.5 1924.0,396.2 1925.9,401.9 1927.8,396.4 1929.7,395.6 1931.6,398.4 1933.5,396.3 1935.4,393.0 1937.3,394.8 1939.2,388.6 1941.1,390.0 1943.0,388.2 1944.9,394.7 1946.8,393.6 1948.7,400.0 1950.6,397.8 1952.5,399.6 1954.4,398.1 1956.3,399.7 1958.2,402.9 1960.1,407.5 1962.0,405.9 1963.9,405.3 1965.8,412.8 1967.7,413.4 1969.6,411.1 1971.5,413.4 1973.4,413.4 1975.3,413.4 1977.2,409.5 1979.1,412.3 1981.0,410.6 1982.9,413.4 1984.8,411.8 1986.7,409.2 1988.6,411.5 1990.5,412.3 1992.4,408.3 1994.3,408.6 1996.2,409.8 1998.1,410.5 2000.0,410.0 2001.9,407.7 2003.8,408.2 2005.7,411.1 2007.6,411.9 2009.5,409.5 2011.4,411.5 2013.3,413.4 2015.2,411.0" fill="none" stroke="#c23c39" stroke-width="3.8" stroke-linejoin="round" stroke-linecap="round"/>
<polyline points="1425.9,589.6 1427.8,572.3 1429.7,570.5 1431.6,579.7 1433.5,589.6 1435.4,580.0 1437.3,585.1 1439.2,579.9 1441.1,577.2 1443.0,576.0 1444.9,576.0 1446.8,576.7 1448.7,580.7 1450.6,588.5 1452.5,584.4 1454.4,587.5 1456.3,587.2 1458.2,588.0 1460.1,588.7 1462.0,589.6 1463.9,588.7 1465.8,588.5 1467.7,587.7 1469.6,589.6 1471.5,585.6 1473.4,589.6 1475.3,589.6 1477.2,587.3 1479.1,589.5 1481.0,589.6 1482.9,586.6 1484.8,584.7 1486.7,588.2 1488.6,589.6 1490.5,589.6 1492.4,585.5 1494.3,589.6 1496.2,588.7 1498.1,586.8 1500.0,582.5 1501.9,589.6 1503.8,585.5 1505.7,588.9 1507.6,588.2 1509.5,589.6 1511.4,589.6 1513.3,584.5 1515.2,587.2 1517.1,589.6 1519.0,584.0 1520.9,586.8 1522.8,588.7 1524.7,583.2 1526.6,584.3 1528.5,582.9 1530.4,589.0 1532.3,586.7 1534.2,589.6 1536.1,589.4 1538.0,589.6 1539.9,589.3 1541.8,589.6 1543.7,587.2 1545.6,580.8 1547.5,583.0 1549.4,578.8 1551.3,579.3 1553.2,568.6 1555.1,564.7 1557.0,561.6 1558.9,559.0 1560.8,573.4 1562.7,581.6 1564.6,577.7 1566.5,572.7 1568.4,582.4 1570.3,578.9 1572.2,579.7 1574.1,579.6 1576.0,580.8 1577.9,584.3 1579.8,580.2 1581.7,586.9 1583.6,586.8 1585.5,589.0 1587.4,577.2 1589.3,580.1 1591.2,574.7 1593.1,578.8 1595.0,574.2 1596.9,581.2 1598.8,581.2 1600.7,575.0 1602.6,577.0 1604.5,574.2 1606.4,570.7 1608.3,570.2 1610.2,567.3 1612.1,569.4 1614.0,571.0 1615.9,566.8 1617.8,563.7 1619.7,570.8 1621.6,565.8 1623.5,565.9 1625.4,563.7 1627.3,560.1 1629.2,559.1 1631.1,549.8 1633.0,543.4 1634.9,525.4 1636.8,509.9 1638.7,498.0 1640.6,487.2 1642.5,470.3 1644.4,477.7 1646.3,487.9 1648.2,506.4 1650.1,519.5 1652.0,538.8 1653.9,557.9 1655.8,563.4 1657.7,563.4 1659.6,568.3 1661.5,577.7 1663.4,576.2 1665.3,584.8 1667.2,583.0 1669.1,589.6 1671.0,589.6 1672.9,589.6 1674.8,589.6 1676.7,589.5 1678.6,588.9 1680.5,589.2 1682.4,589.6 1684.3,589.6 1686.2,589.6 1688.1,585.8 1690.0,588.0 1691.9,589.6 1693.8,589.6 1695.7,585.1 1697.6,589.6 1699.5,589.6 1701.4,580.6 1703.3,582.1 1705.2,584.3 1707.1,575.7 1709.0,571.5 1710.9,568.2 1712.8,565.1 1714.7,560.5 1716.6,565.8 1718.5,557.6 1720.4,563.7 1722.3,563.9 1724.2,565.6 1726.1,571.3 1728.0,574.2 1729.9,581.3 1731.8,579.5 1733.7,584.2 1735.6,582.8 1737.5,585.0 1739.4,587.9 1741.3,584.3 1743.2,586.6 1745.1,585.3 1747.0,588.0 1748.9,589.6 1750.8,589.6 1752.7,583.8 1754.6,588.8 1756.5,589.6 1758.4,589.6 1760.3,589.6 1762.2,582.1 1764.1,583.7 1766.0,585.7 1767.9,585.5 1769.8,581.7 1771.7,579.1 1773.6,576.1 1775.5,570.2 1777.4,569.7 1779.3,567.9 1781.2,562.2 1783.1,567.7 1785.0,559.8 1786.9,570.9 1788.8,577.3 1790.7,574.6 1792.6,576.0 1794.5,571.5 1796.4,566.8 1798.3,567.9 1800.2,568.1 1802.1,549.4 1804.0,547.1 1805.9,541.7 1807.8,543.3 1809.7,543.6 1811.6,547.4 1813.5,544.5 1815.4,554.0 1817.3,553.3 1819.2,555.3 1821.1,560.5 1823.0,565.1 1824.9,575.6 1826.8,587.0 1828.7,585.3 1830.6,585.2 1832.5,588.5 1834.4,587.4 1836.3,586.4 1838.2,583.6 1840.1,589.3 1842.0,589.6 1843.9,589.6 1845.8,589.6 1847.7,589.6 1849.6,588.3 1851.5,586.5 1853.4,579.4 1855.3,576.9 1857.2,571.2 1859.1,571.9 1861.0,561.8 1862.9,562.7 1864.8,558.3 1866.7,554.3 1868.6,554.3 1870.5,555.8 1872.4,561.5 1874.3,566.4 1876.2,570.7 1878.1,572.4 1880.0,577.8 1881.9,579.9 1883.8,581.7 1885.7,587.9 1887.6,586.0 1889.5,588.9 1891.4,589.6 1893.3,588.8 1895.2,581.7 1897.1,584.3 1899.0,582.9 1900.9,589.6 1902.8,589.6 1904.7,589.6 1906.6,588.0 1908.5,587.7 1910.4,589.6 1912.3,588.4 1914.2,587.7 1916.1,589.6 1918.0,584.7 1919.9,582.4 1921.8,585.4 1923.7,585.0 1925.6,588.2 1927.5,585.8 1929.4,587.9 1931.3,582.3 1933.2,589.6 1935.1,589.6 1937.0,585.9 1938.9,589.5 1940.8,589.6 1942.7,589.6 1944.6,588.5 1946.5,589.6 1948.4,589.6 1950.3,585.4 1952.2,584.8 1954.1,587.4 1956.0,589.6 1957.9,589.6 1959.8,589.6 1961.7,589.6 1963.6,589.6 1965.5,589.4 1967.4,587.4 1969.3,586.7 1971.2,586.6 1973.1,587.7 1975.0,583.3 1976.9,575.0 1978.8,574.7 1980.7,580.5 1982.6,578.4 1984.5,574.7 1986.4,579.5 1988.3,581.4 1990.2,579.7 1992.1,579.0 1994.0,588.9 1995.9,588.4 1997.8,587.5 1999.7,585.4 2001.6,589.6 2003.5,589.6 2005.4,582.8 2007.3,583.5 2009.2,582.5 2011.1,584.5 2013.0,586.9 2014.9,587.6" fill="none" stroke="#c23c39" stroke-width="3.8" stroke-linejoin="round" stroke-linecap="round"/>
<g stroke="#000" stroke-width="2.4" stroke-dasharray="10.5 9.6" fill="none">
<line x1="1444.7" y1="174.5" x2="1443.3" y2="587.0"/>
<line x1="1460.0" y1="174.5" x2="1458.6" y2="587.0"/>
<line x1="1554.3" y1="175.5" x2="1553.0" y2="587.0"/>
<line x1="1781.9" y1="148.2" x2="1780.8" y2="587.0"/>
<line x1="1807.4" y1="151.0" x2="1806.3" y2="587.0"/>
<line x1="1863.6" y1="154.3" x2="1862.7" y2="587.0"/>
</g>
<rect x="1548" y="243" width="330" height="36" fill="#fff"/>
<rect x="1530" y="421" width="366" height="41.5" fill="#fff"/>
<text id="c122" transform="translate(1453.80 168.40) rotate(-90) scale(1 1.110)" font-size="26.20" fill="#000">122</text>
<text id="c140" transform="translate(1480.40 168.40) rotate(-90) scale(1 1.110)" font-size="26.20" fill="#000">140</text>
<text id="c253" transform="translate(1558.60 164.90) rotate(-90) scale(1 1.050)" font-size="27.80" fill="#000">253</text>
<text id="c518" transform="translate(1794.50 145.60) rotate(-90) scale(1 1.050)" font-size="27.80" fill="#000">518</text>
<text id="c550" transform="translate(1826.70 145.60) rotate(-90) scale(1 1.050)" font-size="27.80" fill="#000">550</text>
<text id="c615" transform="translate(1879.80 145.90) rotate(-90) scale(1 1.050)" font-size="27.80" fill="#000">615</text>
<text id="cC" transform="translate(1415.60 33.20) scale(0.910 1)" font-size="40.50" fill="#000" text-anchor="start" font-weight="bold">C</text>
<text id="cox" transform="translate(1572.50 82.70) scale(1.000 1)" font-size="23.40" fill="#c23c39" text-anchor="start">oxidation: 150°C, under air</text>
<text id="cred" transform="translate(1572.50 266.10) scale(1.000 1)" font-size="23.40" fill="#c23c39" text-anchor="start">reduction: 150°C, under N<tspan font-size="14.5" dy="5.3">2</tspan></text>
<text id="cbef" transform="translate(1535.30 450.90) scale(1.000 1)" font-size="23.40" fill="#c23c39" text-anchor="start">before reaction: 25°C, w/ 1,4-BDO</text>
<text id="cf1" transform="translate(1871.00 169.90) scale(1.000 1)" font-size="23.40" fill="#999" text-anchor="start">fresh catalyst</text>
<text id="cf2" transform="translate(1867.20 339.70) scale(1.000 1)" font-size="23.40" fill="#999" text-anchor="start">fresh catalyst</text>
<text id="cf3" transform="translate(1871.10 513.20) scale(1.000 1)" font-size="23.40" fill="#999" text-anchor="start">fresh catalyst</text>
<text id="ast4" transform="translate(1566.90 172.70) scale(1.000 1)" font-size="24.50" fill="#000" text-anchor="middle">*</text>
<text id="ast5" transform="translate(1584.40 156.10) scale(1.000 1)" font-size="24.50" fill="#000" text-anchor="middle">*</text>
<text id="ast6" transform="translate(1640.70 130.70) scale(1.000 1)" font-size="24.50" fill="#000" text-anchor="middle">*</text>
<text id="ast7" transform="translate(1954.90 213.00) scale(1.000 1)" font-size="24.50" fill="#000" text-anchor="middle">*</text>
<g font-size="31" text-anchor="middle" fill="#000">
<text x="1425.6" y="625.3">100</text>
<text x="1510.1" y="625.3">200</text>
<text x="1594.6" y="625.3">300</text>
<text x="1679.1" y="625.3">400</text>
<text x="1763.6" y="625.3">500</text>
<text x="1848.1" y="625.3">600</text>
<text x="1932.6" y="625.3">700</text>
<text x="2017.1" y="625.3">800</text>
</g>
<text x="1580.1" y="678.7" font-size="31.6" textLength="284" lengthAdjust="spacing" fill="#000">Wavenumber (cm<tspan font-size="20.3" dy="-14">-1</tspan><tspan dy="14">)</tspan></text>
</svg>
</body></html>
